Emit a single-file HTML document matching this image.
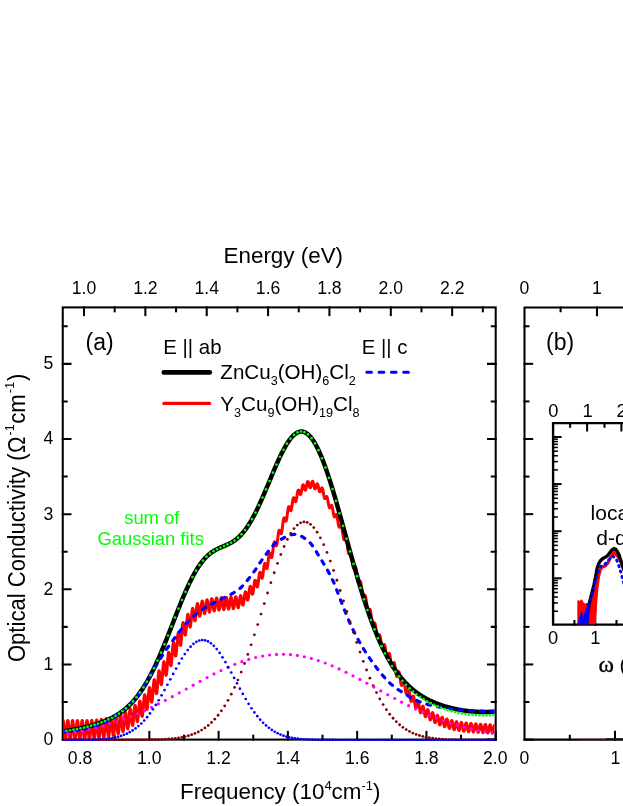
<!DOCTYPE html><html><head><meta charset="utf-8"><title>fig</title><style>html,body{margin:0;padding:0;background:#fff}body{width:623px;height:806px;overflow:hidden;font-family:"Liberation Sans",sans-serif}</style></head><body><svg width="623" height="806" viewBox="0 0 623 806" style="display:block;will-change:transform" font-family="Liberation Sans, sans-serif" fill="#000">
<rect width="623" height="806" fill="#fff"/>
<defs><clipPath id="ca"><rect x="63.95" y="307.4" width="430.55" height="433.6"/></clipPath><clipPath id="ci"><rect x="553.4" y="423.7" width="80" height="200.8"/></clipPath></defs>
<g stroke="#000" stroke-width="2.05" fill="none" stroke-linecap="square">
<rect x="62.75" y="307.4" width="432.95" height="432.20000000000005"/>
<path d="M62.75,739.60h7.7M495.7,739.60h-7.7"/>
<path d="M62.75,664.45h7.7M495.7,664.45h-7.7"/>
<path d="M62.75,589.30h7.7M495.7,589.30h-7.7"/>
<path d="M62.75,514.15h7.7M495.7,514.15h-7.7"/>
<path d="M62.75,439.00h7.7M495.7,439.00h-7.7"/>
<path d="M62.75,363.85h7.7M495.7,363.85h-7.7"/>
<path d="M62.75,702.02h3.9M495.7,702.02h-3.9"/>
<path d="M62.75,626.88h3.9M495.7,626.88h-3.9"/>
<path d="M62.75,551.73h3.9M495.7,551.73h-3.9"/>
<path d="M62.75,476.57h3.9M495.7,476.57h-3.9"/>
<path d="M62.75,401.43h3.9M495.7,401.43h-3.9"/>
<path d="M62.75,326.27h3.9M495.7,326.27h-3.9"/>
<path d="M80.07,739.6v-7.7"/>
<path d="M114.70,739.6v-3.9"/>
<path d="M149.34,739.6v-7.7"/>
<path d="M183.98,739.6v-3.9"/>
<path d="M218.61,739.6v-7.7"/>
<path d="M253.25,739.6v-3.9"/>
<path d="M287.88,739.6v-7.7"/>
<path d="M322.52,739.6v-3.9"/>
<path d="M357.16,739.6v-7.7"/>
<path d="M391.79,739.6v-3.9"/>
<path d="M426.43,739.6v-7.7"/>
<path d="M461.06,739.6v-3.9"/>
<path d="M495.70,739.6v-7.7"/>
<path d="M84.00,307.4v7.7"/>
<path d="M114.68,307.4v3.9"/>
<path d="M145.36,307.4v7.7"/>
<path d="M176.04,307.4v3.9"/>
<path d="M206.72,307.4v7.7"/>
<path d="M237.40,307.4v3.9"/>
<path d="M268.08,307.4v7.7"/>
<path d="M298.76,307.4v3.9"/>
<path d="M329.44,307.4v7.7"/>
<path d="M360.12,307.4v3.9"/>
<path d="M390.80,307.4v7.7"/>
<path d="M421.48,307.4v3.9"/>
<path d="M452.16,307.4v7.7"/>
<path d="M482.84,307.4v3.9"/>
</g>
<g clip-path="url(#ca)" fill="none" stroke-linejoin="round" stroke-linecap="butt">
<path d="M63.00,720.45 L63.17,720.69 L63.35,721.40 L63.52,722.55 L63.69,724.08 L63.87,725.90 L64.04,727.92 L64.22,730.04 L64.39,732.15 L64.56,734.15 L64.74,735.92 L64.91,737.38 L65.08,738.45 L65.26,739.08 L65.43,739.23 L65.61,738.90 L65.78,738.11 L65.95,736.89 L66.13,735.31 L66.30,733.44 L66.47,731.40 L66.65,729.27 L66.82,727.17 L66.99,725.21 L67.17,723.49 L67.34,722.10 L67.52,721.11 L67.69,720.56 L67.86,720.50 L68.04,720.91 L68.21,721.78 L68.38,723.07 L68.56,724.71 L68.73,726.61 L68.90,728.68 L69.08,730.81 L69.25,732.89 L69.43,734.81 L69.60,736.47 L69.77,737.80 L69.95,738.71 L70.12,739.17 L70.29,739.15 L70.47,738.65 L70.64,737.70 L70.82,736.34 L70.99,734.65 L71.16,732.72 L71.34,730.63 L71.51,728.51 L71.68,726.45 L71.86,724.57 L72.03,722.96 L72.20,721.71 L72.38,720.87 L72.55,720.50 L72.73,720.61 L72.90,721.19 L73.07,722.22 L73.25,723.64 L73.42,725.38 L73.59,727.35 L73.77,729.45 L73.94,731.57 L74.11,733.60 L74.29,735.44 L74.46,736.98 L74.64,738.17 L74.81,738.92 L74.98,739.21 L75.16,739.01 L75.33,738.35 L75.50,737.24 L75.68,735.76 L75.85,733.97 L76.03,731.97 L76.20,729.86 L76.37,727.75 L76.55,725.75 L76.72,723.96 L76.89,722.47 L77.07,721.37 L77.24,720.70 L77.41,720.50 L77.59,720.78 L77.76,721.53 L77.94,722.70 L78.11,724.25 L78.28,726.08 L78.46,728.10 L78.63,730.22 L78.80,732.31 L78.98,734.28 L79.15,736.02 L79.32,737.44 L79.50,738.48 L79.67,739.06 L79.85,739.18 L80.02,738.81 L80.19,737.98 L80.37,736.73 L80.54,735.13 L80.71,733.26 L80.89,731.21 L81.06,729.10 L81.24,727.02 L81.41,725.08 L81.58,723.40 L81.76,722.04 L81.93,721.09 L82.10,720.58 L82.28,720.56 L82.45,721.01 L82.62,721.92 L82.80,723.23 L82.97,724.89 L83.15,726.80 L83.32,728.86 L83.49,730.98 L83.67,733.04 L83.84,734.93 L84.01,736.57 L84.19,737.85 L84.36,738.73 L84.54,739.14 L84.71,739.08 L84.88,738.55 L85.06,737.56 L85.23,736.18 L85.40,734.48 L85.58,732.53 L85.75,730.45 L85.92,728.34 L86.10,726.30 L86.27,724.45 L86.45,722.87 L86.62,721.65 L86.79,720.86 L86.97,720.52 L87.14,720.67 L87.31,721.28 L87.49,722.34 L87.66,723.78 L87.83,725.53 L88.01,727.50 L88.18,729.59 L88.36,731.69 L88.53,733.69 L88.70,735.49 L88.88,737.00 L89.05,738.13 L89.22,738.84 L89.40,739.07 L89.57,738.83 L89.75,738.12 L89.92,736.98 L90.09,735.47 L90.27,733.66 L90.44,731.65 L90.61,729.54 L90.79,727.43 L90.96,725.44 L91.13,723.67 L91.31,722.21 L91.48,721.13 L91.66,720.49 L91.83,720.32 L92.00,720.63 L92.18,721.40 L92.35,722.59 L92.52,724.14 L92.70,725.97 L92.87,727.98 L93.04,730.07 L93.22,732.14 L93.39,734.07 L93.57,735.76 L93.74,737.13 L93.91,738.11 L94.09,738.63 L94.26,738.69 L94.43,738.27 L94.61,737.39 L94.78,736.10 L94.96,734.47 L95.13,732.57 L95.30,730.50 L95.48,728.38 L95.65,726.30 L95.82,724.37 L96.00,722.70 L96.17,721.37 L96.34,720.43 L96.52,719.95 L96.69,719.95 L96.87,720.42 L97.04,721.34 L97.21,722.65 L97.39,724.30 L97.56,726.20 L97.73,728.24 L97.91,730.33 L98.08,732.35 L98.25,734.19 L98.43,735.77 L98.60,736.99 L98.78,737.80 L98.95,738.15 L99.12,738.03 L99.30,737.44 L99.47,736.40 L99.64,734.97 L99.82,733.23 L99.99,731.25 L100.17,729.15 L100.34,727.03 L100.51,724.99 L100.69,723.14 L100.86,721.58 L101.03,720.38 L101.21,719.60 L101.38,719.28 L101.55,719.44 L101.73,720.07 L101.90,721.13 L102.08,722.57 L102.25,724.31 L102.42,726.27 L102.60,728.33 L102.77,730.39 L102.94,732.35 L103.12,734.10 L103.29,735.55 L103.46,736.62 L103.64,737.26 L103.81,737.44 L103.99,737.14 L104.16,736.38 L104.33,735.19 L104.51,733.63 L104.68,731.79 L104.85,729.76 L105.03,727.63 L105.20,725.53 L105.38,723.55 L105.55,721.79 L105.72,720.34 L105.90,719.29 L106.07,718.67 L106.24,718.52 L106.42,718.85 L106.59,719.63 L106.76,720.83 L106.94,722.38 L107.11,724.20 L107.29,726.20 L107.46,728.27 L107.63,730.30 L107.81,732.18 L107.98,733.83 L108.15,735.14 L108.33,736.06 L108.50,736.53 L108.68,736.53 L108.85,736.06 L109.02,735.13 L109.20,733.80 L109.37,732.14 L109.54,730.21 L109.72,728.14 L109.89,726.01 L110.06,723.93 L110.24,722.02 L110.41,720.37 L110.59,719.05 L110.76,718.15 L110.93,717.70 L111.11,717.72 L111.28,718.21 L111.45,719.14 L111.63,720.47 L111.80,722.12 L111.97,724.01 L112.15,726.03 L112.32,728.09 L112.50,730.06 L112.67,731.86 L112.84,733.38 L113.02,734.55 L113.19,735.30 L113.36,735.59 L113.54,735.40 L113.71,734.74 L113.89,733.65 L114.06,732.18 L114.23,730.39 L114.41,728.39 L114.58,726.26 L114.75,724.12 L114.93,722.08 L115.10,720.23 L115.27,718.67 L115.45,717.48 L115.62,716.71 L115.80,716.40 L115.97,716.57 L116.14,717.20 L116.32,718.25 L116.49,719.68 L116.66,721.40 L116.84,723.31 L117.01,725.33 L117.18,727.34 L117.36,729.24 L117.53,730.91 L117.71,732.29 L117.88,733.28 L118.05,733.84 L118.23,733.93 L118.40,733.55 L118.57,732.71 L118.75,731.45 L118.92,729.83 L119.10,727.93 L119.27,725.85 L119.44,723.69 L119.62,721.55 L119.79,719.54 L119.96,717.77 L120.14,716.31 L120.31,715.25 L120.48,714.62 L120.66,714.46 L120.83,714.77 L121.01,715.53 L121.18,716.70 L121.35,718.22 L121.53,719.99 L121.70,721.93 L121.87,723.93 L122.05,725.89 L122.22,727.69 L122.39,729.24 L122.57,730.46 L122.74,731.28 L122.92,731.65 L123.09,731.55 L123.26,730.97 L123.44,729.96 L123.61,728.54 L123.78,726.79 L123.96,724.80 L124.13,722.65 L124.31,720.47 L124.48,718.35 L124.65,716.40 L124.83,714.71 L125.00,713.37 L125.17,712.44 L125.35,711.96 L125.52,711.95 L125.69,712.40 L125.87,713.30 L126.04,714.58 L126.22,716.18 L126.39,718.00 L126.56,719.95 L126.74,721.92 L126.91,723.81 L127.08,725.51 L127.26,726.93 L127.43,727.99 L127.61,728.63 L127.78,728.81 L127.95,728.52 L128.13,727.76 L128.30,726.58 L128.47,725.01 L128.65,723.15 L128.82,721.08 L128.99,718.89 L129.17,716.70 L129.34,714.62 L129.52,712.74 L129.69,711.15 L129.86,709.94 L130.04,709.15 L130.21,708.82 L130.38,708.96 L130.56,709.56 L130.73,710.58 L130.90,711.97 L131.08,713.64 L131.25,715.50 L131.43,717.45 L131.60,719.38 L131.77,721.19 L131.95,722.78 L132.12,724.06 L132.29,724.96 L132.47,725.42 L132.64,725.41 L132.82,724.94 L132.99,724.01 L133.16,722.66 L133.34,720.97 L133.51,719.01 L133.68,716.87 L133.86,714.66 L134.03,712.49 L134.20,710.45 L134.38,708.66 L134.55,707.18 L134.73,706.10 L134.90,705.46 L135.07,705.29 L135.25,705.59 L135.42,706.33 L135.59,707.48 L135.77,708.96 L135.94,710.69 L136.11,712.58 L136.29,714.52 L136.46,716.40 L136.64,718.13 L136.81,719.60 L136.98,720.73 L137.16,721.46 L137.33,721.73 L137.50,721.54 L137.68,720.87 L137.85,719.76 L138.03,718.25 L138.20,716.42 L138.37,714.35 L138.55,712.14 L138.72,709.89 L138.89,707.71 L139.07,705.71 L139.24,703.97 L139.41,702.59 L139.59,701.61 L139.76,701.08 L139.94,701.01 L140.11,701.41 L140.28,702.24 L140.46,703.45 L140.63,704.95 L140.80,706.68 L140.98,708.52 L141.15,710.38 L141.32,712.13 L141.50,713.69 L141.67,714.97 L141.85,715.88 L142.02,716.36 L142.19,716.39 L142.37,715.94 L142.54,715.03 L142.71,713.70 L142.89,711.99 L143.06,710.00 L143.24,707.80 L143.41,705.49 L143.58,703.20 L143.76,701.01 L143.93,699.03 L144.10,697.35 L144.28,696.05 L144.45,695.17 L144.62,694.75 L144.80,694.80 L144.97,695.30 L145.15,696.22 L145.32,697.49 L145.49,699.03 L145.67,700.76 L145.84,702.57 L146.01,704.35 L146.19,706.00 L146.36,707.43 L146.54,708.53 L146.71,709.25 L146.88,709.54 L147.06,709.36 L147.23,708.71 L147.40,707.61 L147.58,706.11 L147.75,704.26 L147.92,702.16 L148.10,699.89 L148.27,697.55 L148.45,695.27 L148.62,693.12 L148.79,691.23 L148.97,689.66 L149.14,688.49 L149.31,687.76 L149.49,687.50 L149.66,687.71 L149.83,688.35 L150.01,689.39 L150.18,690.76 L150.36,692.37 L150.53,694.12 L150.70,695.91 L150.88,697.64 L151.05,699.20 L151.22,700.50 L151.40,701.45 L151.57,702.00 L151.75,702.10 L151.92,701.72 L152.09,700.89 L152.27,699.61 L152.44,697.95 L152.61,695.98 L152.79,693.78 L152.96,691.44 L153.13,689.08 L153.31,686.81 L153.48,684.71 L153.66,682.89 L153.83,681.42 L154.00,680.37 L154.18,679.77 L154.35,679.63 L154.52,679.95 L154.70,680.70 L154.87,681.82 L155.04,683.24 L155.22,684.86 L155.39,686.60 L155.57,688.33 L155.74,689.97 L155.91,691.40 L156.09,692.54 L156.26,693.32 L156.43,693.67 L156.61,693.56 L156.78,692.98 L156.96,691.95 L157.13,690.50 L157.30,688.69 L157.48,686.59 L157.65,684.30 L157.82,681.92 L158.00,679.56 L158.17,677.31 L158.34,675.28 L158.52,673.56 L158.69,672.21 L158.87,671.29 L159.04,670.84 L159.21,670.85 L159.39,671.31 L159.56,672.18 L159.73,673.39 L159.91,674.87 L160.08,676.53 L160.25,678.26 L160.43,679.95 L160.60,681.51 L160.78,682.83 L160.95,683.83 L161.12,684.44 L161.30,684.62 L161.47,684.33 L161.64,683.58 L161.82,682.39 L161.99,680.80 L162.17,678.87 L162.34,676.69 L162.51,674.36 L162.69,671.97 L162.86,669.64 L163.03,667.46 L163.21,665.53 L163.38,663.94 L163.55,662.74 L163.73,661.98 L163.90,661.69 L164.08,661.86 L164.25,662.47 L164.42,663.46 L164.60,664.77 L164.77,666.32 L164.94,668.00 L165.12,669.72 L165.29,671.36 L165.46,672.83 L165.64,674.03 L165.81,674.88 L165.99,675.33 L166.16,675.33 L166.33,674.86 L166.51,673.93 L166.68,672.57 L166.85,670.84 L167.03,668.80 L167.20,666.54 L167.38,664.16 L167.55,661.77 L167.72,659.46 L167.90,657.35 L168.07,655.52 L168.24,654.04 L168.42,652.99 L168.59,652.38 L168.76,652.24 L168.94,652.56 L169.11,653.29 L169.29,654.39 L169.46,655.78 L169.63,657.37 L169.81,659.06 L169.98,660.75 L170.15,662.33 L170.33,663.69 L170.50,664.77 L170.68,665.47 L170.85,665.75 L171.02,665.57 L171.20,664.92 L171.37,663.83 L171.54,662.32 L171.72,660.46 L171.89,658.33 L172.06,656.01 L172.24,653.61 L172.41,651.24 L172.59,648.99 L172.76,646.97 L172.93,645.26 L173.11,643.93 L173.28,643.03 L173.45,642.59 L173.63,642.61 L173.80,643.08 L173.97,643.96 L174.15,645.17 L174.32,646.64 L174.50,648.27 L174.67,649.97 L174.84,651.63 L175.02,653.14 L175.19,654.42 L175.36,655.36 L175.54,655.92 L175.71,656.03 L175.89,655.69 L176.06,654.87 L176.23,653.62 L176.41,651.97 L176.58,649.99 L176.75,647.77 L176.93,645.40 L177.10,642.99 L177.27,640.63 L177.45,638.43 L177.62,636.50 L177.80,634.91 L177.97,633.72 L178.14,632.97 L178.32,632.68 L178.49,632.85 L178.66,633.44 L178.84,634.41 L179.01,635.67 L179.18,637.15 L179.36,638.76 L179.53,640.38 L179.71,641.91 L179.88,643.26 L180.05,644.34 L180.23,645.08 L180.40,645.41 L180.57,645.30 L180.75,644.74 L180.92,643.74 L181.10,642.34 L181.27,640.58 L181.44,638.54 L181.62,636.31 L181.79,633.98 L181.96,631.65 L182.14,629.43 L182.31,627.40 L182.48,625.65 L182.66,624.26 L182.83,623.27 L183.01,622.71 L183.18,622.59 L183.35,622.91 L183.53,623.61 L183.70,624.65 L183.87,625.96 L184.05,627.44 L184.22,629.00 L184.39,630.55 L184.57,631.99 L184.74,633.22 L184.92,634.17 L185.09,634.77 L185.26,634.98 L185.44,634.76 L185.61,634.12 L185.78,633.08 L185.96,631.66 L186.13,629.94 L186.31,627.98 L186.48,625.88 L186.65,623.72 L186.83,621.59 L187.00,619.61 L187.17,617.84 L187.35,616.38 L187.52,615.27 L187.69,614.56 L187.87,614.28 L188.04,614.41 L188.22,614.95 L188.39,615.84 L188.56,617.04 L188.74,618.45 L188.91,619.99 L189.08,621.58 L189.26,623.11 L189.43,624.50 L189.61,625.67 L189.78,626.54 L189.95,627.06 L190.13,627.19 L190.30,626.92 L190.47,626.24 L190.65,625.18 L190.82,623.79 L190.99,622.13 L191.17,620.26 L191.34,618.29 L191.52,616.29 L191.69,614.36 L191.86,612.59 L192.04,611.05 L192.21,609.82 L192.38,608.94 L192.56,608.44 L192.73,608.34 L192.90,608.63 L193.08,609.29 L193.25,610.27 L193.43,611.50 L193.60,612.91 L193.77,614.42 L193.95,615.94 L194.12,617.38 L194.29,618.65 L194.47,619.69 L194.64,620.43 L194.82,620.81 L194.99,620.83 L195.16,620.46 L195.34,619.71 L195.51,618.63 L195.68,617.24 L195.86,615.63 L196.03,613.85 L196.20,612.01 L196.38,610.17 L196.55,608.43 L196.73,606.87 L196.90,605.56 L197.07,604.55 L197.25,603.90 L197.42,603.61 L197.59,603.71 L197.77,604.17 L197.94,604.96 L198.11,606.03 L198.29,607.33 L198.46,608.76 L198.64,610.26 L198.81,611.74 L198.98,613.12 L199.16,614.32 L199.33,615.27 L199.50,615.91 L199.68,616.22 L199.85,616.18 L200.03,615.77 L200.20,615.02 L200.37,613.96 L200.55,612.64 L200.72,611.13 L200.89,609.51 L201.07,607.84 L201.24,606.21 L201.41,604.71 L201.59,603.39 L201.76,602.33 L201.94,601.58 L202.11,601.16 L202.28,601.09 L202.46,601.38 L202.63,602.00 L202.80,602.92 L202.98,604.08 L203.15,605.42 L203.32,606.86 L203.50,608.33 L203.67,609.76 L203.85,611.05 L204.02,612.15 L204.19,613.00 L204.37,613.54 L204.54,613.75 L204.71,613.62 L204.89,613.16 L205.06,612.37 L205.24,611.31 L205.41,610.03 L205.58,608.59 L205.76,607.05 L205.93,605.50 L206.10,604.01 L206.28,602.66 L206.45,601.50 L206.62,600.60 L206.80,600.00 L206.97,599.73 L207.15,599.80 L207.32,600.20 L207.49,600.91 L207.67,601.89 L207.84,603.08 L208.01,604.43 L208.19,605.85 L208.36,607.28 L208.54,608.64 L208.71,609.85 L208.88,610.85 L209.06,611.60 L209.23,612.03 L209.40,612.15 L209.58,611.93 L209.75,611.38 L209.92,610.54 L210.10,609.44 L210.27,608.13 L210.45,606.70 L210.62,605.19 L210.79,603.70 L210.97,602.29 L211.14,601.04 L211.31,600.01 L211.49,599.25 L211.66,598.79 L211.83,598.66 L212.01,598.86 L212.18,599.38 L212.36,600.19 L212.53,601.24 L212.70,602.48 L212.88,603.85 L213.05,605.27 L213.22,606.66 L213.40,607.96 L213.57,609.09 L213.75,610.00 L213.92,610.64 L214.09,610.97 L214.27,610.97 L214.44,610.65 L214.61,610.01 L214.79,609.10 L214.96,607.96 L215.13,606.64 L215.31,605.21 L215.48,603.74 L215.66,602.31 L215.83,600.99 L216.00,599.85 L216.18,598.94 L216.35,598.30 L216.52,597.98 L216.70,597.98 L216.87,598.30 L217.04,598.92 L217.22,599.82 L217.39,600.93 L217.57,602.21 L217.74,603.59 L217.91,604.99 L218.09,606.33 L218.26,607.56 L218.43,608.61 L218.61,609.42 L218.78,609.94 L218.96,610.16 L219.13,610.06 L219.30,609.64 L219.48,608.93 L219.65,607.96 L219.82,606.78 L220.00,605.45 L220.17,604.04 L220.34,602.62 L220.52,601.26 L220.69,600.04 L220.87,599.01 L221.04,598.22 L221.21,597.72 L221.39,597.52 L221.56,597.65 L221.73,598.08 L221.91,598.80 L222.08,599.77 L222.25,600.94 L222.43,602.24 L222.60,603.61 L222.78,604.98 L222.95,606.27 L223.12,607.43 L223.30,608.38 L223.47,609.08 L223.64,609.50 L223.82,609.60 L223.99,609.40 L224.17,608.89 L224.34,608.10 L224.51,607.08 L224.69,605.87 L224.86,604.54 L225.03,603.15 L225.21,601.78 L225.38,600.50 L225.55,599.37 L225.73,598.44 L225.90,597.77 L226.08,597.39 L226.25,597.32 L226.42,597.55 L226.60,598.09 L226.77,598.89 L226.94,599.91 L227.12,601.11 L227.29,602.42 L227.46,603.77 L227.64,605.09 L227.81,606.32 L227.99,607.38 L228.16,608.23 L228.33,608.82 L228.51,609.12 L228.68,609.11 L228.85,608.80 L229.03,608.20 L229.20,607.34 L229.38,606.27 L229.55,605.03 L229.72,603.70 L229.90,602.34 L230.07,601.03 L230.24,599.81 L230.42,598.77 L230.59,597.95 L230.76,597.39 L230.94,597.12 L231.11,597.16 L231.29,597.49 L231.46,598.11 L231.63,598.97 L231.81,600.04 L231.98,601.25 L232.15,602.55 L232.33,603.86 L232.50,605.12 L232.68,606.26 L232.85,607.22 L233.02,607.96 L233.20,608.43 L233.37,608.61 L233.54,608.49 L233.72,608.07 L233.89,607.38 L234.06,606.45 L234.24,605.33 L234.41,604.07 L234.59,602.74 L234.76,601.41 L234.93,600.14 L235.11,599.00 L235.28,598.05 L235.45,597.32 L235.63,596.87 L235.80,596.70 L235.97,596.83 L236.15,597.25 L236.32,597.93 L236.50,598.84 L236.67,599.93 L236.84,601.14 L237.02,602.41 L237.19,603.66 L237.36,604.85 L237.54,605.89 L237.71,606.75 L237.89,607.36 L238.06,607.70 L238.23,607.76 L238.41,607.52 L238.58,607.00 L238.75,606.21 L238.93,605.21 L239.10,604.03 L239.27,602.73 L239.45,601.39 L239.62,600.06 L239.80,598.81 L239.97,597.70 L240.14,596.79 L240.32,596.11 L240.49,595.71 L240.66,595.58 L240.84,595.74 L241.01,596.17 L241.18,596.84 L241.36,597.71 L241.53,598.74 L241.71,599.86 L241.88,601.01 L242.05,602.12 L242.23,603.14 L242.40,604.00 L242.57,604.64 L242.75,605.04 L242.92,605.17 L243.10,605.00 L243.27,604.55 L243.44,603.83 L243.62,602.87 L243.79,601.70 L243.96,600.39 L244.14,599.00 L244.31,597.57 L244.48,596.19 L244.66,594.92 L244.83,593.80 L245.01,592.89 L245.18,592.23 L245.35,591.83 L245.53,591.72 L245.70,591.88 L245.87,592.31 L246.05,592.96 L246.22,593.79 L246.39,594.75 L246.57,595.79 L246.74,596.83 L246.92,597.81 L247.09,598.68 L247.26,599.38 L247.44,599.87 L247.61,600.10 L247.78,600.06 L247.96,599.73 L248.13,599.14 L248.31,598.29 L248.48,597.22 L248.65,595.98 L248.83,594.61 L249.00,593.19 L249.17,591.76 L249.35,590.41 L249.52,589.17 L249.69,588.11 L249.87,587.27 L250.04,586.69 L250.22,586.37 L250.39,586.33 L250.56,586.56 L250.74,587.03 L250.91,587.72 L251.08,588.56 L251.26,589.52 L251.43,590.52 L251.61,591.51 L251.78,592.42 L251.95,593.20 L252.13,593.79 L252.30,594.15 L252.47,594.26 L252.65,594.09 L252.82,593.65 L252.99,592.95 L253.17,592.01 L253.34,590.86 L253.52,589.56 L253.69,588.17 L253.86,586.73 L254.04,585.31 L254.21,583.98 L254.38,582.78 L254.56,581.77 L254.73,580.99 L254.90,580.45 L255.08,580.19 L255.25,580.18 L255.43,580.43 L255.60,580.90 L255.77,581.56 L255.95,582.35 L256.12,583.23 L256.29,584.13 L256.47,585.00 L256.64,585.76 L256.82,586.38 L256.99,586.80 L257.16,586.99 L257.34,586.93 L257.51,586.60 L257.68,586.00 L257.86,585.16 L258.03,584.10 L258.20,582.86 L258.38,581.49 L258.55,580.04 L258.73,578.58 L258.90,577.17 L259.07,575.85 L259.25,574.69 L259.42,573.72 L259.59,572.99 L259.77,572.50 L259.94,572.28 L260.11,572.31 L260.29,572.57 L260.46,573.05 L260.64,573.68 L260.81,574.44 L260.98,575.25 L261.16,576.07 L261.33,576.83 L261.50,577.47 L261.68,577.96 L261.85,578.25 L262.03,578.30 L262.20,578.10 L262.37,577.64 L262.55,576.93 L262.72,575.99 L262.89,574.85 L263.07,573.56 L263.24,572.16 L263.41,570.71 L263.59,569.26 L263.76,567.88 L263.94,566.62 L264.11,565.52 L264.28,564.63 L264.46,563.97 L264.63,563.55 L264.80,563.39 L264.98,563.46 L265.15,563.76 L265.32,564.23 L265.50,564.85 L265.67,565.56 L265.85,566.31 L266.02,567.04 L266.19,567.69 L266.37,568.21 L266.54,568.56 L266.71,568.70 L266.89,568.60 L267.06,568.26 L267.24,567.66 L267.41,566.83 L267.58,565.78 L267.76,564.55 L267.93,563.19 L268.10,561.74 L268.28,560.26 L268.45,558.81 L268.62,557.43 L268.80,556.19 L268.97,555.12 L269.15,554.26 L269.32,553.63 L269.49,553.24 L269.67,553.10 L269.84,553.18 L270.01,553.46 L270.19,553.91 L270.36,554.48 L270.54,555.13 L270.71,555.79 L270.88,556.41 L271.06,556.94 L271.23,557.33 L271.40,557.54 L271.58,557.54 L271.75,557.31 L271.92,556.84 L272.10,556.12 L272.27,555.19 L272.45,554.06 L272.62,552.77 L272.79,551.37 L272.97,549.91 L273.14,548.44 L273.31,547.02 L273.49,545.69 L273.66,544.50 L273.83,543.50 L274.01,542.72 L274.18,542.16 L274.36,541.84 L274.53,541.75 L274.70,541.87 L274.88,542.18 L275.05,542.64 L275.22,543.20 L275.40,543.81 L275.57,544.43 L275.75,544.98 L275.92,545.43 L276.09,545.74 L276.27,545.86 L276.44,545.77 L276.61,545.45 L276.79,544.89 L276.96,544.12 L277.13,543.13 L277.31,541.97 L277.48,540.67 L277.66,539.27 L277.83,537.83 L278.00,536.40 L278.18,535.03 L278.35,533.77 L278.52,532.66 L278.70,531.73 L278.87,531.02 L279.04,530.53 L279.22,530.26 L279.39,530.22 L279.57,530.37 L279.74,530.68 L279.91,531.12 L280.09,531.64 L280.26,532.19 L280.43,532.72 L280.61,533.17 L280.78,533.51 L280.96,533.69 L281.13,533.68 L281.30,533.45 L281.48,533.00 L281.65,532.33 L281.82,531.45 L282.00,530.37 L282.17,529.14 L282.34,527.79 L282.52,526.38 L282.69,524.94 L282.87,523.53 L283.04,522.20 L283.21,520.99 L283.39,519.95 L283.56,519.09 L283.73,518.45 L283.91,518.04 L284.08,517.84 L284.25,517.85 L284.43,518.04 L284.60,518.38 L284.78,518.83 L284.95,519.34 L285.12,519.87 L285.30,520.36 L285.47,520.77 L285.64,521.05 L285.82,521.17 L285.99,521.10 L286.17,520.82 L286.34,520.33 L286.51,519.63 L286.69,518.74 L286.86,517.68 L287.03,516.48 L287.21,515.19 L287.38,513.85 L287.55,512.51 L287.73,511.22 L287.90,510.03 L288.08,508.97 L288.25,508.09 L288.42,507.40 L288.60,506.92 L288.77,506.67 L288.94,506.62 L289.12,506.77 L289.29,507.09 L289.46,507.54 L289.64,508.08 L289.81,508.67 L289.99,509.26 L290.16,509.80 L290.33,510.24 L290.51,510.55 L290.68,510.68 L290.85,510.62 L291.03,510.36 L291.20,509.89 L291.38,509.22 L291.55,508.36 L291.72,507.35 L291.90,506.23 L292.07,505.02 L292.24,503.78 L292.42,502.56 L292.59,501.40 L292.76,500.35 L292.94,499.43 L293.11,498.69 L293.29,498.14 L293.46,497.80 L293.63,497.66 L293.81,497.71 L293.98,497.95 L294.15,498.33 L294.33,498.82 L294.50,499.38 L294.68,499.97 L294.85,500.53 L295.02,501.04 L295.20,501.43 L295.37,501.69 L295.54,501.77 L295.72,501.67 L295.89,501.36 L296.06,500.87 L296.24,500.18 L296.41,499.33 L296.59,498.35 L296.76,497.27 L296.93,496.13 L297.11,494.98 L297.28,493.86 L297.45,492.82 L297.63,491.90 L297.80,491.13 L297.97,490.53 L298.15,490.12 L298.32,489.92 L298.50,489.91 L298.67,490.09 L298.84,490.42 L299.02,490.90 L299.19,491.46 L299.36,492.08 L299.54,492.72 L299.71,493.31 L299.89,493.84 L300.06,494.25 L300.23,494.51 L300.41,494.61 L300.58,494.52 L300.75,494.25 L300.93,493.79 L301.10,493.16 L301.27,492.39 L301.45,491.50 L301.62,490.53 L301.80,489.53 L301.97,488.53 L302.14,487.59 L302.32,486.73 L302.49,486.00 L302.66,485.42 L302.84,485.02 L303.01,484.80 L303.18,484.77 L303.36,484.92 L303.53,485.24 L303.71,485.70 L303.88,486.28 L304.05,486.92 L304.23,487.60 L304.40,488.28 L304.57,488.90 L304.75,489.44 L304.92,489.85 L305.10,490.11 L305.27,490.20 L305.44,490.11 L305.62,489.84 L305.79,489.39 L305.96,488.79 L306.14,488.05 L306.31,487.22 L306.48,486.32 L306.66,485.40 L306.83,484.50 L307.01,483.66 L307.18,482.92 L307.35,482.31 L307.53,481.86 L307.70,481.58 L307.87,481.49 L308.05,481.58 L308.22,481.84 L308.39,482.26 L308.57,482.82 L308.74,483.47 L308.92,484.18 L309.09,484.92 L309.26,485.64 L309.44,486.30 L309.61,486.87 L309.78,487.32 L309.96,487.62 L310.13,487.75 L310.31,487.72 L310.48,487.52 L310.65,487.16 L310.83,486.66 L311.00,486.05 L311.17,485.35 L311.35,484.61 L311.52,483.87 L311.69,483.15 L311.87,482.51 L312.04,481.98 L312.22,481.58 L312.39,481.33 L312.56,481.26 L312.74,481.36 L312.91,481.64 L313.08,482.07 L313.26,482.65 L313.43,483.34 L313.61,484.11 L313.78,484.92 L313.95,485.74 L314.13,486.53 L314.30,487.24 L314.47,487.86 L314.65,488.34 L314.82,488.67 L314.99,488.84 L315.17,488.85 L315.34,488.69 L315.52,488.38 L315.69,487.95 L315.86,487.42 L316.04,486.82 L316.21,486.19 L316.38,485.56 L316.56,484.98 L316.73,484.48 L316.90,484.09 L317.08,483.84 L317.25,483.74 L317.43,483.80 L317.60,484.03 L317.77,484.42 L317.95,484.95 L318.12,485.61 L318.29,486.36 L318.47,487.18 L318.64,488.02 L318.82,488.86 L318.99,489.64 L319.16,490.35 L319.34,490.94 L319.51,491.41 L319.68,491.72 L319.86,491.88 L320.03,491.87 L320.20,491.72 L320.38,491.43 L320.55,491.02 L320.73,490.53 L320.90,490.00 L321.07,489.46 L321.25,488.96 L321.42,488.52 L321.59,488.17 L321.77,487.95 L321.94,487.87 L322.11,487.96 L322.29,488.21 L322.46,488.62 L322.64,489.19 L322.81,489.90 L322.98,490.72 L323.16,491.63 L323.33,492.60 L323.50,493.58 L323.68,494.55 L323.85,495.47 L324.03,496.31 L324.20,497.04 L324.37,497.65 L324.55,498.11 L324.72,498.42 L324.89,498.58 L325.07,498.59 L325.24,498.48 L325.41,498.26 L325.59,497.97 L325.76,497.64 L325.94,497.29 L326.11,496.98 L326.28,496.72 L326.46,496.55 L326.63,496.51 L326.80,496.60 L326.98,496.84 L327.15,497.24 L327.32,497.79 L327.50,498.48 L327.67,499.30 L327.85,500.21 L328.02,501.20 L328.19,502.22 L328.37,503.24 L328.54,504.22 L328.71,505.14 L328.89,505.95 L329.06,506.64 L329.24,507.19 L329.41,507.58 L329.58,507.81 L329.76,507.88 L329.93,507.81 L330.10,507.61 L330.28,507.31 L330.45,506.94 L330.62,506.54 L330.80,506.15 L330.97,505.79 L331.15,505.51 L331.32,505.34 L331.49,505.30 L331.67,505.41 L331.84,505.68 L332.01,506.12 L332.19,506.71 L332.36,507.46 L332.54,508.32 L332.71,509.28 L332.88,510.31 L333.06,511.37 L333.23,512.41 L333.40,513.41 L333.58,514.33 L333.75,515.14 L333.92,515.81 L334.10,516.33 L334.27,516.68 L334.45,516.87 L334.62,516.90 L334.79,516.80 L334.97,516.57 L335.14,516.25 L335.31,515.87 L335.49,515.48 L335.66,515.11 L335.83,514.79 L336.01,514.57 L336.18,514.47 L336.36,514.51 L336.53,514.71 L336.70,515.09 L336.88,515.64 L337.05,516.34 L337.22,517.20 L337.40,518.17 L337.57,519.23 L337.75,520.35 L337.92,521.49 L338.09,522.60 L338.27,523.65 L338.44,524.61 L338.61,525.45 L338.79,526.14 L338.96,526.67 L339.13,527.03 L339.31,527.22 L339.48,527.26 L339.66,527.16 L339.83,526.95 L340.00,526.66 L340.18,526.33 L340.35,526.00 L340.52,525.70 L340.70,525.48 L340.87,525.36 L341.04,525.38 L341.22,525.56 L341.39,525.91 L341.57,526.43 L341.74,527.14 L341.91,528.00 L342.09,529.00 L342.26,530.12 L342.43,531.32 L342.61,532.56 L342.78,533.80 L342.96,535.01 L343.13,536.14 L343.30,537.16 L343.48,538.04 L343.65,538.76 L343.82,539.32 L344.00,539.69 L344.17,539.90 L344.34,539.95 L344.52,539.87 L344.69,539.68 L344.87,539.43 L345.04,539.14 L345.21,538.86 L345.39,538.63 L345.56,538.49 L345.73,538.46 L345.91,538.59 L346.08,538.88 L346.25,539.35 L346.43,540.01 L346.60,540.84 L346.78,541.82 L346.95,542.94 L347.12,544.16 L347.30,545.45 L347.47,546.77 L347.64,548.07 L347.82,549.32 L347.99,550.47 L348.17,551.50 L348.34,552.38 L348.51,553.08 L348.69,553.61 L348.86,553.95 L349.03,554.12 L349.21,554.14 L349.38,554.03 L349.55,553.82 L349.73,553.54 L349.90,553.26 L350.08,552.99 L350.25,552.79 L350.42,552.68 L350.60,552.71 L350.77,552.90 L350.94,553.27 L351.12,553.82 L351.29,554.55 L351.46,555.46 L351.64,556.52 L351.81,557.70 L351.99,558.98 L352.16,560.31 L352.33,561.65 L352.51,562.95 L352.68,564.19 L352.85,565.31 L353.03,566.30 L353.20,567.11 L353.38,567.75 L353.55,568.19 L353.72,568.45 L353.90,568.54 L354.07,568.47 L354.24,568.28 L354.42,568.00 L354.59,567.68 L354.76,567.36 L354.94,567.07 L355.11,566.87 L355.29,566.78 L355.46,566.85 L355.63,567.08 L355.81,567.50 L355.98,568.12 L356.15,568.92 L356.33,569.89 L356.50,571.01 L356.68,572.25 L356.85,573.58 L357.02,574.94 L357.20,576.30 L357.37,577.61 L357.54,578.84 L357.72,579.94 L357.89,580.89 L358.06,581.66 L358.24,582.24 L358.41,582.62 L358.59,582.83 L358.76,582.86 L358.93,582.74 L359.11,582.51 L359.28,582.21 L359.45,581.88 L359.63,581.56 L359.80,581.29 L359.97,581.12 L360.15,581.08 L360.32,581.21 L360.50,581.51 L360.67,582.01 L360.84,582.71 L361.02,583.59 L361.19,584.64 L361.36,585.83 L361.54,587.13 L361.71,588.50 L361.89,589.89 L362.06,591.27 L362.23,592.57 L362.41,593.77 L362.58,594.83 L362.75,595.72 L362.93,596.43 L363.10,596.93 L363.27,597.24 L363.45,597.36 L363.62,597.31 L363.80,597.12 L363.97,596.82 L364.14,596.47 L364.32,596.10 L364.49,595.75 L364.66,595.48 L364.84,595.32 L365.01,595.31 L365.18,595.46 L365.36,595.82 L365.53,596.37 L365.71,597.12 L365.88,598.05 L366.05,599.15 L366.23,600.39 L366.40,601.72 L366.57,603.11 L366.75,604.50 L366.92,605.87 L367.10,607.15 L367.27,608.31 L367.44,609.31 L367.62,610.14 L367.79,610.76 L367.96,611.19 L368.14,611.41 L368.31,611.45 L368.48,611.33 L368.66,611.08 L368.83,610.74 L369.01,610.35 L369.18,609.96 L369.35,609.62 L369.53,609.36 L369.70,609.24 L369.87,609.28 L370.05,609.51 L370.22,609.94 L370.39,610.57 L370.57,611.41 L370.74,612.43 L370.92,613.60 L371.09,614.90 L371.26,616.29 L371.44,617.71 L371.61,619.12 L371.78,620.47 L371.96,621.73 L372.13,622.84 L372.31,623.79 L372.48,624.54 L372.65,625.08 L372.83,625.41 L373.00,625.54 L373.17,625.48 L373.35,625.27 L373.52,624.93 L373.69,624.52 L373.87,624.08 L374.04,623.65 L374.22,623.28 L374.39,623.01 L374.56,622.90 L374.74,622.95 L374.91,623.21 L375.08,623.67 L375.26,624.34 L375.43,625.20 L375.61,626.25 L375.78,627.44 L375.95,628.75 L376.13,630.12 L376.30,631.51 L376.47,632.87 L376.65,634.15 L376.82,635.32 L376.99,636.33 L377.17,637.15 L377.34,637.76 L377.52,638.15 L377.69,638.33 L377.86,638.30 L378.04,638.09 L378.21,637.73 L378.38,637.26 L378.56,636.72 L378.73,636.17 L378.90,635.65 L379.08,635.21 L379.25,634.89 L379.43,634.73 L379.60,634.76 L379.77,635.00 L379.95,635.45 L380.12,636.11 L380.29,636.97 L380.47,638.00 L380.64,639.17 L380.82,640.44 L380.99,641.76 L381.16,643.09 L381.34,644.37 L381.51,645.55 L381.68,646.60 L381.86,647.47 L382.03,648.15 L382.20,648.61 L382.38,648.84 L382.55,648.86 L382.73,648.68 L382.90,648.33 L383.07,647.84 L383.25,647.25 L383.42,646.62 L383.59,645.99 L383.77,645.41 L383.94,644.93 L384.11,644.59 L384.29,644.44 L384.46,644.48 L384.64,644.74 L384.81,645.22 L384.98,645.92 L385.16,646.81 L385.33,647.87 L385.50,649.06 L385.68,650.34 L385.85,651.65 L386.03,652.95 L386.20,654.18 L386.37,655.31 L386.55,656.28 L386.72,657.06 L386.89,657.63 L387.07,657.98 L387.24,658.11 L387.41,658.02 L387.59,657.73 L387.76,657.29 L387.94,656.71 L388.11,656.06 L388.28,655.38 L388.46,654.72 L388.63,654.14 L388.80,653.68 L388.98,653.38 L389.15,653.27 L389.32,653.37 L389.50,653.71 L389.67,654.27 L389.85,655.05 L390.02,656.02 L390.19,657.15 L390.37,658.40 L390.54,659.72 L390.71,661.06 L390.89,662.36 L391.06,663.59 L391.24,664.69 L391.41,665.62 L391.58,666.35 L391.76,666.86 L391.93,667.14 L392.10,667.19 L392.28,667.03 L392.45,666.68 L392.62,666.18 L392.80,665.57 L392.97,664.89 L393.15,664.21 L393.32,663.57 L393.49,663.02 L393.67,662.62 L393.84,662.39 L394.01,662.37 L394.19,662.58 L394.36,663.02 L394.54,663.68 L394.71,664.56 L394.88,665.61 L395.06,666.82 L395.23,668.12 L395.40,669.47 L395.58,670.82 L395.75,672.12 L395.92,673.32 L396.10,674.36 L396.27,675.23 L396.45,675.88 L396.62,676.31 L396.79,676.50 L396.97,676.47 L397.14,676.24 L397.31,675.82 L397.49,675.27 L397.66,674.63 L397.83,673.95 L398.01,673.27 L398.18,672.66 L398.36,672.16 L398.53,671.81 L398.70,671.65 L398.88,671.70 L399.05,671.98 L399.22,672.49 L399.40,673.22 L399.57,674.15 L399.75,675.25 L399.92,676.48 L400.09,677.79 L400.27,679.12 L400.44,680.44 L400.61,681.69 L400.79,682.81 L400.96,683.78 L401.13,684.54 L401.31,685.09 L401.48,685.41 L401.66,685.50 L401.83,685.37 L402.00,685.05 L402.18,684.56 L402.35,683.95 L402.52,683.26 L402.70,682.55 L402.87,681.87 L403.04,681.27 L403.22,680.79 L403.39,680.47 L403.57,680.36 L403.74,680.46 L403.91,680.79 L404.09,681.34 L404.26,682.11 L404.43,683.07 L404.61,684.18 L404.78,685.40 L404.96,686.69 L405.13,688.00 L405.30,689.26 L405.48,690.44 L405.65,691.48 L405.82,692.35 L406.00,693.01 L406.17,693.46 L406.34,693.67 L406.52,693.66 L406.69,693.44 L406.87,693.04 L407.04,692.48 L407.21,691.83 L407.39,691.12 L407.56,690.40 L407.73,689.73 L407.91,689.16 L408.08,688.73 L408.25,688.48 L408.43,688.43 L408.60,688.60 L408.78,689.01 L408.95,689.63 L409.12,690.47 L409.30,691.47 L409.47,692.62 L409.64,693.86 L409.82,695.15 L409.99,696.42 L410.17,697.65 L410.34,698.76 L410.51,699.72 L410.69,700.50 L410.86,701.07 L411.03,701.41 L411.21,701.52 L411.38,701.41 L411.55,701.09 L411.73,700.61 L411.90,699.99 L412.08,699.28 L412.25,698.53 L412.42,697.79 L412.60,697.12 L412.77,696.56 L412.94,696.16 L413.12,695.94 L413.29,695.93 L413.46,696.15 L413.64,696.59 L413.81,697.24 L413.99,698.09 L414.16,699.10 L414.33,700.24 L414.51,701.44 L414.68,702.68 L414.85,703.88 L415.03,705.01 L415.20,706.01 L415.38,706.85 L415.55,707.49 L415.72,707.92 L415.90,708.11 L416.07,708.08 L416.24,707.82 L416.42,707.38 L416.59,706.77 L416.76,706.04 L416.94,705.25 L417.11,704.43 L417.29,703.64 L417.46,702.93 L417.63,702.35 L417.81,701.94 L417.98,701.73 L418.15,701.73 L418.33,701.95 L418.50,702.40 L418.68,703.06 L418.85,703.90 L419.02,704.89 L419.20,705.99 L419.37,707.15 L419.54,708.31 L419.72,709.43 L419.89,710.45 L420.06,711.34 L420.24,712.05 L420.41,712.56 L420.59,712.85 L420.76,712.91 L420.93,712.75 L421.11,712.38 L421.28,711.83 L421.45,711.14 L421.63,710.34 L421.80,709.50 L421.97,708.65 L422.15,707.86 L422.32,707.16 L422.50,706.61 L422.67,706.23 L422.84,706.06 L423.02,706.11 L423.19,706.38 L423.36,706.88 L423.54,707.57 L423.71,708.44 L423.89,709.44 L424.06,710.53 L424.23,711.65 L424.41,712.77 L424.58,713.83 L424.75,714.78 L424.93,715.57 L425.10,716.18 L425.27,716.58 L425.45,716.76 L425.62,716.71 L425.80,716.44 L425.97,715.98 L426.14,715.35 L426.32,714.59 L426.49,713.75 L426.66,712.87 L426.84,712.02 L427.01,711.23 L427.18,710.56 L427.36,710.04 L427.53,709.71 L427.71,709.60 L427.88,709.70 L428.05,710.03 L428.23,710.58 L428.40,711.31 L428.57,712.20 L428.75,713.21 L428.92,714.29 L429.10,715.40 L429.27,716.47 L429.44,717.47 L429.62,718.34 L429.79,719.05 L429.96,719.56 L430.14,719.86 L430.31,719.94 L430.48,719.79 L430.66,719.43 L430.83,718.88 L431.01,718.18 L431.18,717.37 L431.35,716.50 L431.53,715.61 L431.70,714.76 L431.87,713.99 L432.05,713.36 L432.22,712.89 L432.39,712.62 L432.57,712.57 L432.74,712.74 L432.92,713.13 L433.09,713.73 L433.26,714.50 L433.44,715.42 L433.61,716.45 L433.78,717.52 L433.96,718.60 L434.13,719.64 L434.31,720.57 L434.48,721.37 L434.65,722.00 L434.83,722.42 L435.00,722.62 L435.17,722.60 L435.35,722.36 L435.52,721.92 L435.69,721.30 L435.87,720.54 L436.04,719.69 L436.22,718.80 L436.39,717.90 L436.56,717.07 L436.74,716.33 L436.91,715.74 L437.08,715.33 L437.26,715.12 L437.43,715.14 L437.61,715.37 L437.78,715.82 L437.95,716.47 L438.13,717.28 L438.30,718.23 L438.47,719.26 L438.65,720.32 L438.82,721.37 L438.99,722.35 L439.17,723.23 L439.34,723.95 L439.52,724.49 L439.69,724.82 L439.86,724.92 L440.04,724.80 L440.21,724.47 L440.38,723.95 L440.56,723.27 L440.73,722.46 L440.90,721.58 L441.08,720.66 L441.25,719.77 L441.43,718.96 L441.60,718.26 L441.77,717.71 L441.95,717.36 L442.12,717.22 L442.29,717.29 L442.47,717.59 L442.64,718.10 L442.82,718.79 L442.99,719.64 L443.16,720.60 L443.34,721.63 L443.51,722.67 L443.68,723.69 L443.86,724.62 L444.03,725.43 L444.20,726.07 L444.38,726.52 L444.55,726.76 L444.73,726.77 L444.90,726.57 L445.07,726.15 L445.25,725.56 L445.42,724.82 L445.59,723.97 L445.77,723.07 L445.94,722.15 L446.11,721.28 L446.29,720.49 L446.46,719.84 L446.64,719.35 L446.81,719.07 L446.98,718.99 L447.16,719.14 L447.33,719.51 L447.50,720.08 L447.68,720.82 L447.85,721.71 L448.03,722.68 L448.20,723.71 L448.37,724.74 L448.55,725.72 L448.72,726.60 L448.89,727.34 L449.07,727.91 L449.24,728.27 L449.41,728.42 L449.59,728.34 L449.76,728.05 L449.94,727.56 L450.11,726.91 L450.28,726.11 L450.46,725.23 L450.63,724.31 L450.80,723.40 L450.98,722.54 L451.15,721.79 L451.32,721.19 L451.50,720.76 L451.67,720.54 L451.85,720.53 L452.02,720.75 L452.19,721.18 L452.37,721.80 L452.54,722.58 L452.71,723.48 L452.89,724.47 L453.06,725.49 L453.24,726.49 L453.41,727.42 L453.58,728.23 L453.76,728.90 L453.93,729.37 L454.10,729.64 L454.28,729.69 L454.45,729.52 L454.62,729.14 L454.80,728.58 L454.97,727.85 L455.15,727.01 L455.32,726.09 L455.49,725.16 L455.67,724.24 L455.84,723.41 L456.01,722.69 L456.19,722.13 L456.36,721.76 L456.54,721.60 L456.71,721.66 L456.88,721.94 L457.06,722.42 L457.23,723.09 L457.40,723.90 L457.58,724.82 L457.75,725.81 L457.92,726.80 L458.10,727.77 L458.27,728.64 L458.45,729.39 L458.62,729.98 L458.79,730.37 L458.97,730.55 L459.14,730.51 L459.31,730.25 L459.49,729.80 L459.66,729.16 L459.83,728.38 L460.01,727.51 L460.18,726.57 L460.36,725.63 L460.53,724.74 L460.70,723.94 L460.88,723.27 L461.05,722.77 L461.22,722.47 L461.40,722.39 L461.57,722.52 L461.75,722.86 L461.92,723.41 L462.09,724.12 L462.27,724.97 L462.44,725.91 L462.61,726.89 L462.79,727.87 L462.96,728.80 L463.13,729.62 L463.31,730.31 L463.48,730.82 L463.66,731.13 L463.83,731.22 L464.00,731.10 L464.18,730.76 L464.35,730.23 L464.52,729.53 L464.70,728.71 L464.87,727.80 L465.04,726.86 L465.22,725.93 L465.39,725.06 L465.57,724.30 L465.74,723.68 L465.91,723.25 L466.09,723.02 L466.26,723.00 L466.43,723.21 L466.61,723.62 L466.78,724.21 L466.96,724.97 L467.13,725.85 L467.30,726.80 L467.48,727.77 L467.65,728.73 L467.82,729.62 L468.00,730.39 L468.17,731.00 L468.34,731.43 L468.52,731.66 L468.69,731.66 L468.87,731.45 L469.04,731.04 L469.21,730.44 L469.39,729.69 L469.56,728.83 L469.73,727.90 L469.91,726.96 L470.08,726.04 L470.25,725.21 L470.43,724.49 L470.60,723.94 L470.78,723.57 L470.95,723.41 L471.12,723.47 L471.30,723.75 L471.47,724.23 L471.64,724.88 L471.82,725.68 L471.99,726.58 L472.17,727.54 L472.34,728.51 L472.51,729.44 L472.69,730.28 L472.86,731.00 L473.03,731.55 L473.21,731.90 L473.38,732.05 L473.55,731.97 L473.73,731.69 L473.90,731.21 L474.08,730.55 L474.25,729.76 L474.42,728.87 L474.60,727.94 L474.77,727.00 L474.94,726.11 L475.12,725.32 L475.29,724.66 L475.46,724.17 L475.64,723.88 L475.81,723.80 L475.99,723.94 L476.16,724.28 L476.33,724.82 L476.51,725.53 L476.68,726.37 L476.85,727.29 L477.03,728.25 L477.20,729.21 L477.38,730.11 L477.55,730.91 L477.72,731.56 L477.90,732.04 L478.07,732.32 L478.24,732.38 L478.42,732.23 L478.59,731.87 L478.76,731.33 L478.94,730.62 L479.11,729.79 L479.29,728.88 L479.46,727.94 L479.63,727.02 L479.81,726.16 L479.98,725.41 L480.15,724.81 L480.33,724.39 L480.50,724.18 L480.68,724.18 L480.85,724.39 L481.02,724.80 L481.20,725.40 L481.37,726.16 L481.54,727.02 L481.72,727.96 L481.89,728.92 L482.06,729.86 L482.24,730.72 L482.41,731.47 L482.59,732.06 L482.76,732.46 L482.93,732.66 L483.11,732.64 L483.28,732.42 L483.45,731.99 L483.63,731.38 L483.80,730.63 L483.97,729.76 L484.15,728.84 L484.32,727.90 L484.50,727.00 L484.67,726.18 L484.84,725.48 L485.02,724.94 L485.19,724.59 L485.36,724.45 L485.54,724.52 L485.71,724.81 L485.89,725.29 L486.06,725.94 L486.23,726.73 L486.41,727.63 L486.58,728.57 L486.75,729.52 L486.93,730.43 L487.10,731.25 L487.27,731.94 L487.45,732.46 L487.62,732.79 L487.80,732.91 L487.97,732.81 L488.14,732.51 L488.32,732.01 L488.49,731.34 L488.66,730.55 L488.84,729.66 L489.01,728.73 L489.18,727.79 L489.36,726.92 L489.53,726.13 L489.71,725.49 L489.88,725.02 L490.05,724.74 L490.23,724.67 L490.40,724.82 L490.57,725.17 L490.75,725.71 L490.92,726.41 L491.10,727.24 L491.27,728.15 L491.44,729.10 L491.62,730.03 L491.79,730.91 L491.96,731.67 L492.14,732.30 L492.31,732.75 L492.48,733.00 L492.66,733.04 L492.83,732.86 L493.01,732.48 L493.18,731.92 L493.35,731.20 L493.53,730.37 L493.70,729.46 L493.87,728.52 L494.05,727.60 L494.22,726.75 L494.39,726.02 L494.57,725.43 L494.74,725.02 L494.92,724.82 L495.09,724.82 L495.26,725.04 L495.44,725.46 L495.61,726.05 L495.78,726.80 L495.96,727.65 L496.13,728.57 L496.31,729.51 L496.48,730.42 L496.65,731.26 L496.83,731.97 L497.00,732.53" stroke="#ff0000" stroke-width="3.0"/>
<path d="M63.00,731.33 L63.72,731.23 L64.45,731.13 L65.17,731.03 L65.90,730.92 L66.62,730.81 L67.35,730.70 L68.07,730.59 L68.80,730.47 L69.52,730.36 L70.25,730.24 L70.97,730.12 L71.69,729.99 L72.42,729.87 L73.14,729.74 L73.87,729.61 L74.59,729.48 L75.32,729.34 L76.04,729.21 L76.77,729.07 L77.49,728.92 L78.22,728.78 L78.94,728.63 L79.66,728.48 L80.39,728.33 L81.11,728.17 L81.84,728.02 L82.56,727.85 L83.29,727.69 L84.01,727.52 L84.74,727.35 L85.46,727.18 L86.19,727.01 L86.91,726.83 L87.63,726.64 L88.36,726.46 L89.08,726.27 L89.81,726.08 L90.53,725.88 L91.26,725.68 L91.98,725.48 L92.71,725.27 L93.43,725.06 L94.16,724.84 L94.88,724.62 L95.60,724.39 L96.33,724.16 L97.05,723.93 L97.78,723.69 L98.50,723.45 L99.23,723.20 L99.95,722.95 L100.68,722.69 L101.40,722.42 L102.13,722.15 L102.85,721.87 L103.57,721.59 L104.30,721.30 L105.02,721.01 L105.75,720.70 L106.47,720.39 L107.20,720.08 L107.92,719.75 L108.65,719.42 L109.37,719.08 L110.10,718.73 L110.82,718.37 L111.54,718.01 L112.27,717.63 L112.99,717.24 L113.72,716.85 L114.44,716.45 L115.17,716.03 L115.89,715.60 L116.62,715.17 L117.34,714.72 L118.07,714.26 L118.79,713.78 L119.51,713.30 L120.24,712.80 L120.96,712.29 L121.69,711.76 L122.41,711.22 L123.14,710.67 L123.86,710.10 L124.59,709.51 L125.31,708.91 L126.04,708.30 L126.76,707.66 L127.48,707.01 L128.21,706.34 L128.93,705.66 L129.66,704.95 L130.38,704.23 L131.11,703.49 L131.83,702.72 L132.56,701.94 L133.28,701.14 L134.01,700.32 L134.73,699.47 L135.45,698.60 L136.18,697.72 L136.90,696.80 L137.63,695.87 L138.35,694.91 L139.08,693.93 L139.80,692.93 L140.53,691.90 L141.25,690.85 L141.97,689.78 L142.70,688.68 L143.42,687.55 L144.15,686.40 L144.87,685.23 L145.60,684.02 L146.32,682.80 L147.05,681.55 L147.77,680.27 L148.50,678.97 L149.22,677.64 L149.94,676.29 L150.67,674.91 L151.39,673.51 L152.12,672.08 L152.84,670.63 L153.57,669.16 L154.29,667.66 L155.02,666.14 L155.74,664.59 L156.47,663.02 L157.19,661.43 L157.91,659.82 L158.64,658.19 L159.36,656.53 L160.09,654.86 L160.81,653.17 L161.54,651.46 L162.26,649.73 L162.99,647.99 L163.71,646.23 L164.44,644.46 L165.16,642.67 L165.88,640.87 L166.61,639.05 L167.33,637.23 L168.06,635.40 L168.78,633.56 L169.51,631.71 L170.23,629.86 L170.96,628.00 L171.68,626.13 L172.41,624.27 L173.13,622.41 L173.85,620.54 L174.58,618.68 L175.30,616.82 L176.03,614.96 L176.75,613.12 L177.48,611.27 L178.20,609.44 L178.93,607.62 L179.65,605.81 L180.38,604.01 L181.10,602.23 L181.82,600.46 L182.55,598.71 L183.27,596.97 L184.00,595.26 L184.72,593.57 L185.45,591.90 L186.17,590.25 L186.90,588.63 L187.62,587.03 L188.35,585.46 L189.07,583.92 L189.79,582.40 L190.52,580.92 L191.24,579.46 L191.97,578.04 L192.69,576.65 L193.42,575.29 L194.14,573.97 L194.87,572.67 L195.59,571.42 L196.32,570.20 L197.04,569.01 L197.76,567.86 L198.49,566.74 L199.21,565.66 L199.94,564.61 L200.66,563.60 L201.39,562.63 L202.11,561.69 L202.84,560.79 L203.56,559.92 L204.29,559.09 L205.01,558.28 L205.73,557.52 L206.46,556.78 L207.18,556.08 L207.91,555.41 L208.63,554.77 L209.36,554.15 L210.08,553.57 L210.81,553.01 L211.53,552.48 L212.26,551.98 L212.98,551.49 L213.70,551.03 L214.43,550.59 L215.15,550.18 L215.88,549.77 L216.60,549.39 L217.33,549.02 L218.05,548.66 L218.78,548.32 L219.50,547.99 L220.23,547.66 L220.95,547.34 L221.67,547.03 L222.40,546.72 L223.12,546.41 L223.85,546.10 L224.57,545.80 L225.30,545.48 L226.02,545.16 L226.75,544.84 L227.47,544.51 L228.20,544.16 L228.92,543.81 L229.64,543.44 L230.37,543.06 L231.09,542.66 L231.82,542.24 L232.54,541.80 L233.27,541.34 L233.99,540.86 L234.72,540.36 L235.44,539.83 L236.17,539.28 L236.89,538.70 L237.61,538.09 L238.34,537.45 L239.06,536.78 L239.79,536.08 L240.51,535.35 L241.24,534.58 L241.96,533.79 L242.69,532.96 L243.41,532.10 L244.14,531.20 L244.86,530.26 L245.58,529.30 L246.31,528.30 L247.03,527.26 L247.76,526.19 L248.48,525.08 L249.21,523.94 L249.93,522.76 L250.66,521.55 L251.38,520.31 L252.11,519.03 L252.83,517.72 L253.55,516.38 L254.28,515.01 L255.00,513.61 L255.73,512.18 L256.45,510.72 L257.18,509.23 L257.90,507.72 L258.63,506.18 L259.35,504.62 L260.08,503.03 L260.80,501.42 L261.52,499.80 L262.25,498.15 L262.97,496.49 L263.70,494.81 L264.42,493.12 L265.15,491.41 L265.87,489.70 L266.60,487.97 L267.32,486.24 L268.05,484.51 L268.77,482.77 L269.49,481.03 L270.22,479.29 L270.94,477.55 L271.67,475.81 L272.39,474.09 L273.12,472.37 L273.84,470.66 L274.57,468.96 L275.29,467.28 L276.02,465.62 L276.74,463.97 L277.46,462.34 L278.19,460.74 L278.91,459.15 L279.64,457.60 L280.36,456.07 L281.09,454.58 L281.81,453.11 L282.54,451.68 L283.26,450.29 L283.98,448.93 L284.71,447.61 L285.43,446.33 L286.16,445.10 L286.88,443.91 L287.61,442.76 L288.33,441.67 L289.06,440.62 L289.78,439.62 L290.51,438.68 L291.23,437.79 L291.95,436.95 L292.68,436.17 L293.40,435.45 L294.13,434.78 L294.85,434.18 L295.58,433.63 L296.30,433.15 L297.03,432.73 L297.75,432.37 L298.48,432.08 L299.20,431.85 L299.92,431.68 L300.65,431.58 L301.37,431.55 L302.10,431.59 L302.82,431.69 L303.55,431.86 L304.27,432.10 L305.00,432.40 L305.72,432.78 L306.45,433.22 L307.17,433.73 L307.89,434.31 L308.62,434.95 L309.34,435.66 L310.07,436.44 L310.79,437.29 L311.52,438.20 L312.24,439.17 L312.97,440.21 L313.69,441.32 L314.42,442.49 L315.14,443.72 L315.86,445.01 L316.59,446.37 L317.31,447.78 L318.04,449.26 L318.76,450.79 L319.49,452.38 L320.21,454.02 L320.94,455.72 L321.66,457.47 L322.39,459.28 L323.11,461.13 L323.83,463.04 L324.56,464.99 L325.28,466.99 L326.01,469.03 L326.73,471.12 L327.46,473.25 L328.18,475.42 L328.91,477.63 L329.63,479.87 L330.36,482.15 L331.08,484.47 L331.80,486.81 L332.53,489.19 L333.25,491.60 L333.98,494.03 L334.70,496.49 L335.43,498.98 L336.15,501.48 L336.88,504.01 L337.60,506.55 L338.33,509.11 L339.05,511.69 L339.77,514.28 L340.50,516.89 L341.22,519.50 L341.95,522.12 L342.67,524.75 L343.40,527.39 L344.12,530.03 L344.85,532.67 L345.57,535.31 L346.30,537.95 L347.02,540.60 L347.74,543.23 L348.47,545.87 L349.19,548.50 L349.92,551.12 L350.64,553.73 L351.37,556.34 L352.09,558.93 L352.82,561.51 L353.54,564.08 L354.27,566.63 L354.99,569.17 L355.71,571.69 L356.44,574.20 L357.16,576.69 L357.89,579.15 L358.61,581.60 L359.34,584.03 L360.06,586.43 L360.79,588.82 L361.51,591.18 L362.24,593.51 L362.96,595.82 L363.68,598.11 L364.41,600.37 L365.13,602.61 L365.86,604.81 L366.58,606.99 L367.31,609.15 L368.03,611.27 L368.76,613.37 L369.48,615.43 L370.21,617.47 L370.93,619.48 L371.65,621.46 L372.38,623.41 L373.10,625.33 L373.83,627.22 L374.55,629.08 L375.28,630.91 L376.00,632.71 L376.73,634.48 L377.45,636.22 L378.18,637.93 L378.90,639.61 L379.62,641.26 L380.35,642.88 L381.07,644.47 L381.80,646.03 L382.52,647.56 L383.25,649.06 L383.97,650.53 L384.70,651.98 L385.42,653.39 L386.15,654.78 L386.87,656.14 L387.59,657.47 L388.32,658.78 L389.04,660.06 L389.77,661.31 L390.49,662.54 L391.22,663.74 L391.94,664.92 L392.67,666.07 L393.39,667.19 L394.12,668.30 L394.84,669.37 L395.56,670.43 L396.29,671.46 L397.01,672.47 L397.74,673.46 L398.46,674.42 L399.19,675.37 L399.91,676.29 L400.64,677.19 L401.36,678.07 L402.09,678.93 L402.81,679.78 L403.53,680.60 L404.26,681.40 L404.98,682.19 L405.71,682.95 L406.43,683.70 L407.16,684.43 L407.88,685.15 L408.61,685.85 L409.33,686.53 L410.06,687.20 L410.78,687.85 L411.50,688.48 L412.23,689.10 L412.95,689.71 L413.68,690.30 L414.40,690.88 L415.13,691.45 L415.85,692.00 L416.58,692.54 L417.30,693.07 L418.03,693.58 L418.75,694.09 L419.47,694.58 L420.20,695.06 L420.92,695.53 L421.65,695.99 L422.37,696.43 L423.10,696.87 L423.82,697.30 L424.55,697.72 L425.27,698.13 L425.99,698.53 L426.72,698.92 L427.44,699.30 L428.17,699.67 L428.89,700.04 L429.62,700.40 L430.34,700.74 L431.07,701.09 L431.79,701.42 L432.52,701.75 L433.24,702.07 L433.96,702.38 L434.69,702.68 L435.41,702.98 L436.14,703.27 L436.86,703.56 L437.59,703.84 L438.31,704.11 L439.04,704.38 L439.76,704.64 L440.49,704.89 L441.21,705.14 L441.93,705.39 L442.66,705.63 L443.38,705.86 L444.11,706.09 L444.83,706.31 L445.56,706.53 L446.28,706.74 L447.01,706.95 L447.73,707.15 L448.46,707.35 L449.18,707.54 L449.90,707.73 L450.63,707.91 L451.35,708.09 L452.08,708.26 L452.80,708.43 L453.53,708.60 L454.25,708.76 L454.98,708.92 L455.70,709.07 L456.43,709.22 L457.15,709.36 L457.87,709.50 L458.60,709.64 L459.32,709.77 L460.05,709.90 L460.77,710.03 L461.50,710.15 L462.22,710.26 L462.95,710.37 L463.67,710.48 L464.40,710.59 L465.12,710.69 L465.84,710.78 L466.57,710.88 L467.29,710.97 L468.02,711.05 L468.74,711.13 L469.47,711.21 L470.19,711.28 L470.92,711.35 L471.64,711.42 L472.37,711.48 L473.09,711.54 L473.81,711.60 L474.54,711.65 L475.26,711.70 L475.99,711.74 L476.71,711.78 L477.44,711.82 L478.16,711.85 L478.89,711.88 L479.61,711.90 L480.34,711.92 L481.06,711.94 L481.78,711.96 L482.51,711.97 L483.23,711.97 L483.96,711.98 L484.68,711.98 L485.41,711.97 L486.13,711.96 L486.86,711.95 L487.58,711.94 L488.31,711.92 L489.03,711.89 L489.75,711.87 L490.48,711.84 L491.20,711.80 L491.93,711.77 L492.65,711.72 L493.38,711.68 L494.10,711.63 L494.83,711.58 L495.55,711.52 L496.28,711.46 L497.00,711.40" stroke="#000" stroke-width="4.5"/>
<path d="M63.00,731.73 L63.72,731.71 L64.45,731.69 L65.17,731.66 L65.90,731.62 L66.62,731.57 L67.35,731.52 L68.07,731.46 L68.80,731.39 L69.52,731.32 L70.25,731.25 L70.97,731.16 L71.69,731.08 L72.42,730.98 L73.14,730.89 L73.87,730.79 L74.59,730.68 L75.32,730.57 L76.04,730.46 L76.77,730.34 L77.49,730.22 L78.22,730.09 L78.94,729.97 L79.66,729.84 L80.39,729.71 L81.11,729.57 L81.84,729.44 L82.56,729.30 L83.29,729.16 L84.01,729.02 L84.74,728.88 L85.46,728.74 L86.19,728.60 L86.91,728.44 L87.63,728.28 L88.36,728.11 L89.08,727.93 L89.81,727.74 L90.53,727.54 L91.26,727.34 L91.98,727.13 L92.71,726.90 L93.43,726.68 L94.16,726.44 L94.88,726.20 L95.60,725.94 L96.33,725.69 L97.05,725.42 L97.78,725.15 L98.50,724.87 L99.23,724.58 L99.95,724.29 L100.68,723.99 L101.40,723.68 L102.13,723.37 L102.85,723.05 L103.57,722.72 L104.30,722.39 L105.02,722.06 L105.75,721.72 L106.47,721.37 L107.20,721.02 L107.92,720.66 L108.65,720.29 L109.37,719.93 L110.10,719.55 L110.82,719.18 L111.54,718.79 L112.27,718.40 L112.99,717.99 L113.72,717.56 L114.44,717.12 L115.17,716.66 L115.89,716.19 L116.62,715.71 L117.34,715.21 L118.07,714.70 L118.79,714.17 L119.51,713.63 L120.24,713.08 L120.96,712.51 L121.69,711.93 L122.41,711.33 L123.14,710.73 L123.86,710.10 L124.59,709.47 L125.31,708.82 L126.04,708.16 L126.76,707.49 L127.48,706.81 L128.21,706.11 L128.93,705.40 L129.66,704.68 L130.38,703.94 L131.11,703.20 L131.83,702.44 L132.56,701.67 L133.28,700.89 L134.01,700.10 L134.73,699.30 L135.45,698.48 L136.18,697.66 L136.90,696.82 L137.63,695.95 L138.35,695.01 L139.08,694.01 L139.80,692.95 L140.53,691.85 L141.25,690.71 L141.97,689.53 L142.70,688.32 L143.42,687.08 L144.15,685.83 L144.87,684.56 L145.60,683.29 L146.32,682.01 L147.05,680.74 L147.77,679.49 L148.50,678.25 L149.22,677.03 L149.94,675.84 L150.67,674.66 L151.39,673.46 L152.12,672.26 L152.84,671.05 L153.57,669.83 L154.29,668.62 L155.02,667.40 L155.74,666.18 L156.47,664.97 L157.19,663.76 L157.91,662.56 L158.64,661.37 L159.36,660.18 L160.09,659.02 L160.81,657.86 L161.54,656.73 L162.26,655.61 L162.99,654.51 L163.71,653.42 L164.44,652.35 L165.16,651.28 L165.88,650.22 L166.61,649.17 L167.33,648.13 L168.06,647.10 L168.78,646.08 L169.51,645.06 L170.23,644.06 L170.96,643.06 L171.68,642.07 L172.41,641.09 L173.13,640.11 L173.85,639.14 L174.58,638.18 L175.30,637.22 L176.03,636.27 L176.75,635.32 L177.48,634.36 L178.20,633.40 L178.93,632.45 L179.65,631.50 L180.38,630.55 L181.10,629.61 L181.82,628.69 L182.55,627.77 L183.27,626.88 L184.00,625.99 L184.72,625.13 L185.45,624.29 L186.17,623.47 L186.90,622.68 L187.62,621.91 L188.35,621.18 L189.07,620.46 L189.79,619.76 L190.52,619.06 L191.24,618.38 L191.97,617.71 L192.69,617.05 L193.42,616.40 L194.14,615.76 L194.87,615.14 L195.59,614.52 L196.32,613.92 L197.04,613.33 L197.76,612.75 L198.49,612.18 L199.21,611.62 L199.94,611.08 L200.66,610.55 L201.39,610.03 L202.11,609.52 L202.84,609.03 L203.56,608.55 L204.29,608.08 L205.01,607.63 L205.73,607.19 L206.46,606.76 L207.18,606.35 L207.91,605.94 L208.63,605.55 L209.36,605.16 L210.08,604.79 L210.81,604.41 L211.53,604.04 L212.26,603.68 L212.98,603.32 L213.70,602.96 L214.43,602.60 L215.15,602.24 L215.88,601.87 L216.60,601.51 L217.33,601.14 L218.05,600.76 L218.78,600.38 L219.50,599.99 L220.23,599.60 L220.95,599.23 L221.67,598.86 L222.40,598.50 L223.12,598.15 L223.85,597.80 L224.57,597.45 L225.30,597.10 L226.02,596.75 L226.75,596.40 L227.47,596.05 L228.20,595.70 L228.92,595.34 L229.64,594.98 L230.37,594.61 L231.09,594.23 L231.82,593.84 L232.54,593.44 L233.27,593.03 L233.99,592.61 L234.72,592.17 L235.44,591.72 L236.17,591.25 L236.89,590.76 L237.61,590.25 L238.34,589.73 L239.06,589.17 L239.79,588.57 L240.51,587.93 L241.24,587.25 L241.96,586.53 L242.69,585.79 L243.41,585.01 L244.14,584.20 L244.86,583.37 L245.58,582.52 L246.31,581.65 L247.03,580.77 L247.76,579.87 L248.48,578.97 L249.21,578.06 L249.93,577.15 L250.66,576.23 L251.38,575.32 L252.11,574.40 L252.83,573.43 L253.55,572.43 L254.28,571.40 L255.00,570.35 L255.73,569.28 L256.45,568.19 L257.18,567.10 L257.90,565.99 L258.63,564.89 L259.35,563.79 L260.08,562.70 L260.80,561.62 L261.52,560.57 L262.25,559.53 L262.97,558.52 L263.70,557.55 L264.42,556.60 L265.15,555.66 L265.87,554.69 L266.60,553.72 L267.32,552.75 L268.05,551.77 L268.77,550.80 L269.49,549.85 L270.22,548.91 L270.94,547.99 L271.67,547.11 L272.39,546.26 L273.12,545.44 L273.84,544.68 L274.57,543.96 L275.29,543.31 L276.02,542.71 L276.74,542.18 L277.46,541.71 L278.19,541.25 L278.91,540.78 L279.64,540.33 L280.36,539.87 L281.09,539.43 L281.81,538.99 L282.54,538.56 L283.26,538.15 L283.98,537.75 L284.71,537.36 L285.43,536.99 L286.16,536.64 L286.88,536.30 L287.61,535.99 L288.33,535.70 L289.06,535.43 L289.78,535.19 L290.51,534.97 L291.23,534.78 L291.95,534.63 L292.68,534.50 L293.40,534.41 L294.13,534.35 L294.85,534.33 L295.58,534.35 L296.30,534.43 L297.03,534.57 L297.75,534.75 L298.48,534.99 L299.20,535.26 L299.92,535.58 L300.65,535.93 L301.37,536.32 L302.10,536.74 L302.82,537.18 L303.55,537.65 L304.27,538.13 L305.00,538.63 L305.72,539.15 L306.45,539.67 L307.17,540.20 L307.89,540.73 L308.62,541.31 L309.34,541.98 L310.07,542.74 L310.79,543.58 L311.52,544.48 L312.24,545.45 L312.97,546.47 L313.69,547.54 L314.42,548.65 L315.14,549.79 L315.86,550.96 L316.59,552.15 L317.31,553.35 L318.04,554.55 L318.76,555.75 L319.49,556.94 L320.21,558.11 L320.94,559.27 L321.66,560.42 L322.39,561.57 L323.11,562.74 L323.83,563.92 L324.56,565.12 L325.28,566.33 L326.01,567.56 L326.73,568.80 L327.46,570.08 L328.18,571.37 L328.91,572.69 L329.63,574.05 L330.36,575.43 L331.08,576.85 L331.80,578.30 L332.53,579.79 L333.25,581.32 L333.98,582.91 L334.70,584.64 L335.43,586.46 L336.15,588.37 L336.88,590.32 L337.60,592.29 L338.33,594.26 L339.05,596.19 L339.77,598.07 L340.50,599.88 L341.22,601.70 L341.95,603.53 L342.67,605.36 L343.40,607.18 L344.12,609.01 L344.85,610.83 L345.57,612.63 L346.30,614.42 L347.02,616.20 L347.74,617.95 L348.47,619.68 L349.19,621.38 L349.92,623.04 L350.64,624.67 L351.37,626.27 L352.09,627.82 L352.82,629.32 L353.54,630.79 L354.27,632.24 L354.99,633.66 L355.71,635.05 L356.44,636.43 L357.16,637.78 L357.89,639.11 L358.61,640.42 L359.34,641.71 L360.06,642.99 L360.79,644.24 L361.51,645.47 L362.24,646.69 L362.96,647.89 L363.68,649.08 L364.41,650.25 L365.13,651.41 L365.86,652.55 L366.58,653.68 L367.31,654.79 L368.03,655.89 L368.76,656.98 L369.48,658.06 L370.21,659.12 L370.93,660.16 L371.65,661.20 L372.38,662.22 L373.10,663.22 L373.83,664.21 L374.55,665.19 L375.28,666.16 L376.00,667.11 L376.73,668.04 L377.45,668.96 L378.18,669.87 L378.90,670.77 L379.62,671.65 L380.35,672.54 L381.07,673.42 L381.80,674.29 L382.52,675.16 L383.25,676.01 L383.97,676.85 L384.70,677.68 L385.42,678.49 L386.15,679.29 L386.87,680.07 L387.59,680.83 L388.32,681.57 L389.04,682.29 L389.77,682.99 L390.49,683.66 L391.22,684.30 L391.94,684.92 L392.67,685.52 L393.39,686.10 L394.12,686.67 L394.84,687.22 L395.56,687.76 L396.29,688.28 L397.01,688.79 L397.74,689.30 L398.46,689.79 L399.19,690.27 L399.91,690.75 L400.64,691.22 L401.36,691.68 L402.09,692.14 L402.81,692.60 L403.53,693.05 L404.26,693.50 L404.98,693.95 L405.71,694.40 L406.43,694.85 L407.16,695.30 L407.88,695.74 L408.61,696.18 L409.33,696.62 L410.06,697.04 L410.78,697.46 L411.50,697.88 L412.23,698.28 L412.95,698.67 L413.68,699.05 L414.40,699.43 L415.13,699.78 L415.85,700.13 L416.58,700.45 L417.30,700.77 L418.03,701.07 L418.75,701.37 L419.47,701.66 L420.20,701.94 L420.92,702.22 L421.65,702.49 L422.37,702.76 L423.10,703.02 L423.82,703.27 L424.55,703.51 L425.27,703.75 L425.99,703.98 L426.72,704.20 L427.44,704.42 L428.17,704.62 L428.89,704.82 L429.62,705.01 L430.34,705.20 L431.07,705.37 L431.79,705.54 L432.52,705.71 L433.24,705.87 L433.96,706.03 L434.69,706.18 L435.41,706.33 L436.14,706.47 L436.86,706.61 L437.59,706.75 L438.31,706.88 L439.04,707.01 L439.76,707.14 L440.49,707.27 L441.21,707.39 L441.93,707.51 L442.66,707.63 L443.38,707.75 L444.11,707.87 L444.83,707.99 L445.56,708.10 L446.28,708.22 L447.01,708.33 L447.73,708.44 L448.46,708.55 L449.18,708.65 L449.90,708.76 L450.63,708.86 L451.35,708.95 L452.08,709.05 L452.80,709.14 L453.53,709.23 L454.25,709.31 L454.98,709.39 L455.70,709.47 L456.43,709.55 L457.15,709.62 L457.87,709.69 L458.60,709.76 L459.32,709.83 L460.05,709.90 L460.77,709.96 L461.50,710.03 L462.22,710.09 L462.95,710.15 L463.67,710.21 L464.40,710.26 L465.12,710.31 L465.84,710.36 L466.57,710.41 L467.29,710.45 L468.02,710.49 L468.74,710.53 L469.47,710.57 L470.19,710.61 L470.92,710.64 L471.64,710.68 L472.37,710.72 L473.09,710.75 L473.81,710.79 L474.54,710.82 L475.26,710.86 L475.99,710.89 L476.71,710.93 L477.44,710.96 L478.16,710.99 L478.89,711.03 L479.61,711.06 L480.34,711.09 L481.06,711.12 L481.78,711.15 L482.51,711.18 L483.23,711.20 L483.96,711.23 L484.68,711.26 L485.41,711.28 L486.13,711.31 L486.86,711.33 L487.58,711.35 L488.31,711.37 L489.03,711.39 L489.75,711.41 L490.48,711.42 L491.20,711.44 L491.93,711.45 L492.65,711.46 L493.38,711.47 L494.10,711.48 L494.83,711.49 L495.55,711.49 L496.28,711.50 L497.00,711.50" stroke="#0000ff" stroke-width="3.2" stroke-dasharray="3.7 7.1" stroke-linecap="round"/>
</g>
<g clip-path="url(#ca)">
<g fill="#800000"><circle cx="63.00" cy="740.00" r="1.4"/><circle cx="66.30" cy="740.00" r="1.4"/><circle cx="69.60" cy="740.00" r="1.4"/><circle cx="72.90" cy="740.00" r="1.4"/><circle cx="76.20" cy="740.00" r="1.4"/><circle cx="79.50" cy="740.00" r="1.4"/><circle cx="82.80" cy="740.00" r="1.4"/><circle cx="86.10" cy="740.00" r="1.4"/><circle cx="89.40" cy="740.00" r="1.4"/><circle cx="92.70" cy="740.00" r="1.4"/><circle cx="96.00" cy="740.00" r="1.4"/><circle cx="99.30" cy="740.00" r="1.4"/><circle cx="102.60" cy="740.00" r="1.4"/><circle cx="105.90" cy="740.00" r="1.4"/><circle cx="109.20" cy="740.00" r="1.4"/><circle cx="112.50" cy="740.00" r="1.4"/><circle cx="115.80" cy="739.99" r="1.4"/><circle cx="119.10" cy="739.99" r="1.4"/><circle cx="122.40" cy="739.99" r="1.4"/><circle cx="125.70" cy="739.98" r="1.4"/><circle cx="129.00" cy="739.97" r="1.4"/><circle cx="132.30" cy="739.96" r="1.4"/><circle cx="135.60" cy="739.95" r="1.4"/><circle cx="138.90" cy="739.93" r="1.4"/><circle cx="142.20" cy="739.90" r="1.4"/><circle cx="145.50" cy="739.86" r="1.4"/><circle cx="148.80" cy="739.82" r="1.4"/><circle cx="152.10" cy="739.75" r="1.4"/><circle cx="155.40" cy="739.67" r="1.4"/><circle cx="158.70" cy="739.56" r="1.4"/><circle cx="162.00" cy="739.42" r="1.4"/><circle cx="165.30" cy="739.24" r="1.4"/><circle cx="168.60" cy="739.01" r="1.4"/><circle cx="171.90" cy="738.72" r="1.4"/><circle cx="175.20" cy="738.35" r="1.4"/><circle cx="178.50" cy="737.88" r="1.4"/><circle cx="181.80" cy="737.31" r="1.4"/><circle cx="185.10" cy="736.60" r="1.4"/><circle cx="188.40" cy="735.74" r="1.4"/><circle cx="191.70" cy="734.68" r="1.4"/><circle cx="195.00" cy="733.41" r="1.4"/><circle cx="198.30" cy="731.89" r="1.4"/><circle cx="201.60" cy="730.07" r="1.4"/><circle cx="204.90" cy="727.93" r="1.4"/><circle cx="208.20" cy="725.42" r="1.4"/><circle cx="211.50" cy="722.50" r="1.4"/><circle cx="214.80" cy="719.13" r="1.4"/><circle cx="218.10" cy="715.26" r="1.4"/><circle cx="221.40" cy="710.87" r="1.4"/><circle cx="224.70" cy="705.92" r="1.4"/><circle cx="228.00" cy="700.37" r="1.4"/><circle cx="231.30" cy="694.22" r="1.4"/><circle cx="234.60" cy="687.45" r="1.4"/><circle cx="237.90" cy="680.06" r="1.4"/><circle cx="241.20" cy="672.07" r="1.4"/><circle cx="244.50" cy="663.50" r="1.4"/><circle cx="247.80" cy="654.40" r="1.4"/><circle cx="251.10" cy="644.82" r="1.4"/><circle cx="254.40" cy="634.85" r="1.4"/><circle cx="257.70" cy="624.57" r="1.4"/><circle cx="261.00" cy="614.08" r="1.4"/><circle cx="264.30" cy="603.53" r="1.4"/><circle cx="267.60" cy="593.02" r="1.4"/><circle cx="270.90" cy="582.72" r="1.4"/><circle cx="274.20" cy="572.76" r="1.4"/><circle cx="277.50" cy="563.30" r="1.4"/><circle cx="280.80" cy="554.50" r="1.4"/><circle cx="284.10" cy="546.50" r="1.4"/><circle cx="287.40" cy="539.43" r="1.4"/><circle cx="290.70" cy="533.43" r="1.4"/><circle cx="294.00" cy="528.60" r="1.4"/><circle cx="297.30" cy="525.03" r="1.4"/><circle cx="300.60" cy="522.79" r="1.4"/><circle cx="303.90" cy="521.93" r="1.4"/><circle cx="307.20" cy="522.46" r="1.4"/><circle cx="310.50" cy="524.36" r="1.4"/><circle cx="313.80" cy="527.60" r="1.4"/><circle cx="317.10" cy="532.13" r="1.4"/><circle cx="320.40" cy="537.86" r="1.4"/><circle cx="323.70" cy="544.67" r="1.4"/><circle cx="327.00" cy="552.46" r="1.4"/><circle cx="330.30" cy="561.08" r="1.4"/><circle cx="333.60" cy="570.39" r="1.4"/><circle cx="336.90" cy="580.24" r="1.4"/><circle cx="340.20" cy="590.48" r="1.4"/><circle cx="343.50" cy="600.94" r="1.4"/><circle cx="346.80" cy="611.50" r="1.4"/><circle cx="350.10" cy="622.01" r="1.4"/><circle cx="353.40" cy="632.35" r="1.4"/><circle cx="356.70" cy="642.41" r="1.4"/><circle cx="360.00" cy="652.09" r="1.4"/><circle cx="363.30" cy="661.32" r="1.4"/><circle cx="366.60" cy="670.02" r="1.4"/><circle cx="369.90" cy="678.16" r="1.4"/><circle cx="373.20" cy="685.70" r="1.4"/><circle cx="376.50" cy="692.62" r="1.4"/><circle cx="379.80" cy="698.92" r="1.4"/><circle cx="383.10" cy="704.61" r="1.4"/><circle cx="386.40" cy="709.71" r="1.4"/><circle cx="389.70" cy="714.24" r="1.4"/><circle cx="393.00" cy="718.23" r="1.4"/><circle cx="396.30" cy="721.72" r="1.4"/><circle cx="399.60" cy="724.74" r="1.4"/><circle cx="402.90" cy="727.35" r="1.4"/><circle cx="406.20" cy="729.58" r="1.4"/><circle cx="409.50" cy="731.47" r="1.4"/><circle cx="412.80" cy="733.06" r="1.4"/><circle cx="416.10" cy="734.39" r="1.4"/><circle cx="419.40" cy="735.50" r="1.4"/><circle cx="422.70" cy="736.41" r="1.4"/><circle cx="426.00" cy="737.15" r="1.4"/><circle cx="429.30" cy="737.76" r="1.4"/><circle cx="432.60" cy="738.24" r="1.4"/><circle cx="435.90" cy="738.63" r="1.4"/><circle cx="439.20" cy="738.94" r="1.4"/><circle cx="442.50" cy="739.19" r="1.4"/><circle cx="445.80" cy="739.38" r="1.4"/><circle cx="449.10" cy="739.53" r="1.4"/><circle cx="452.40" cy="739.65" r="1.4"/><circle cx="455.70" cy="739.74" r="1.4"/><circle cx="459.00" cy="739.80" r="1.4"/><circle cx="462.30" cy="739.85" r="1.4"/><circle cx="465.60" cy="739.89" r="1.4"/><circle cx="468.90" cy="739.92" r="1.4"/><circle cx="472.20" cy="739.94" r="1.4"/><circle cx="475.50" cy="739.96" r="1.4"/><circle cx="478.80" cy="739.97" r="1.4"/><circle cx="482.10" cy="739.98" r="1.4"/><circle cx="485.40" cy="739.99" r="1.4"/><circle cx="488.70" cy="739.99" r="1.4"/><circle cx="492.00" cy="739.99" r="1.4"/><circle cx="495.30" cy="740.00" r="1.4"/></g>
<g fill="#ff00ff"><circle cx="68.05" cy="733.62" r="1.6"/><circle cx="75.00" cy="732.47" r="1.6"/><circle cx="81.95" cy="731.15" r="1.6"/><circle cx="88.90" cy="729.67" r="1.6"/><circle cx="95.85" cy="728.00" r="1.6"/><circle cx="102.80" cy="726.13" r="1.6"/><circle cx="109.75" cy="724.07" r="1.6"/><circle cx="116.70" cy="721.80" r="1.6"/><circle cx="123.65" cy="719.32" r="1.6"/><circle cx="130.60" cy="716.63" r="1.6"/><circle cx="137.55" cy="713.73" r="1.6"/><circle cx="144.50" cy="710.64" r="1.6"/><circle cx="151.45" cy="707.36" r="1.6"/><circle cx="158.40" cy="703.92" r="1.6"/><circle cx="165.35" cy="700.33" r="1.6"/><circle cx="172.30" cy="696.63" r="1.6"/><circle cx="179.25" cy="692.84" r="1.6"/><circle cx="186.20" cy="689.00" r="1.6"/><circle cx="193.15" cy="685.15" r="1.6"/><circle cx="200.10" cy="681.33" r="1.6"/><circle cx="207.05" cy="677.58" r="1.6"/><circle cx="214.00" cy="673.97" r="1.6"/><circle cx="220.95" cy="670.53" r="1.6"/><circle cx="227.90" cy="667.30" r="1.6"/><circle cx="234.85" cy="664.35" r="1.6"/><circle cx="241.80" cy="661.71" r="1.6"/><circle cx="248.75" cy="659.42" r="1.6"/><circle cx="255.70" cy="657.52" r="1.6"/><circle cx="262.65" cy="656.03" r="1.6"/><circle cx="269.60" cy="654.99" r="1.6"/><circle cx="276.55" cy="654.40" r="1.6"/><circle cx="283.50" cy="654.29" r="1.6"/><circle cx="290.45" cy="654.64" r="1.6"/><circle cx="297.40" cy="655.46" r="1.6"/><circle cx="304.35" cy="656.73" r="1.6"/><circle cx="311.30" cy="658.43" r="1.6"/><circle cx="318.25" cy="660.53" r="1.6"/><circle cx="325.20" cy="663.01" r="1.6"/><circle cx="332.15" cy="665.81" r="1.6"/><circle cx="339.10" cy="668.91" r="1.6"/><circle cx="346.05" cy="672.25" r="1.6"/><circle cx="353.00" cy="675.79" r="1.6"/><circle cx="359.95" cy="679.47" r="1.6"/><circle cx="366.90" cy="683.26" r="1.6"/><circle cx="373.85" cy="687.10" r="1.6"/><circle cx="380.80" cy="690.95" r="1.6"/><circle cx="387.75" cy="694.77" r="1.6"/><circle cx="394.70" cy="698.52" r="1.6"/><circle cx="401.65" cy="702.17" r="1.6"/><circle cx="408.60" cy="705.69" r="1.6"/><circle cx="415.55" cy="709.05" r="1.6"/><circle cx="422.50" cy="712.23" r="1.6"/><circle cx="429.45" cy="715.23" r="1.6"/><circle cx="436.40" cy="718.02" r="1.6"/><circle cx="443.35" cy="720.60" r="1.6"/><circle cx="450.30" cy="722.98" r="1.6"/><circle cx="457.25" cy="725.14" r="1.6"/><circle cx="464.20" cy="727.10" r="1.6"/><circle cx="471.15" cy="728.87" r="1.6"/><circle cx="478.10" cy="730.44" r="1.6"/><circle cx="485.05" cy="731.84" r="1.6"/><circle cx="492.00" cy="733.07" r="1.6"/></g>
<g fill="#0000ff"><circle cx="63.00" cy="739.99" r="1.35"/><circle cx="65.90" cy="739.99" r="1.35"/><circle cx="68.80" cy="739.98" r="1.35"/><circle cx="71.70" cy="739.97" r="1.35"/><circle cx="74.60" cy="739.96" r="1.35"/><circle cx="77.50" cy="739.94" r="1.35"/><circle cx="80.40" cy="739.92" r="1.35"/><circle cx="83.30" cy="739.89" r="1.35"/><circle cx="86.20" cy="739.85" r="1.35"/><circle cx="89.10" cy="739.79" r="1.35"/><circle cx="92.00" cy="739.72" r="1.35"/><circle cx="94.90" cy="739.62" r="1.35"/><circle cx="97.80" cy="739.48" r="1.35"/><circle cx="100.70" cy="739.31" r="1.35"/><circle cx="103.60" cy="739.09" r="1.35"/><circle cx="106.50" cy="738.80" r="1.35"/><circle cx="109.40" cy="738.44" r="1.35"/><circle cx="112.30" cy="737.99" r="1.35"/><circle cx="115.20" cy="737.43" r="1.35"/><circle cx="118.10" cy="736.74" r="1.35"/><circle cx="121.00" cy="735.89" r="1.35"/><circle cx="123.90" cy="734.86" r="1.35"/><circle cx="126.80" cy="733.63" r="1.35"/><circle cx="129.70" cy="732.17" r="1.35"/><circle cx="132.60" cy="730.44" r="1.35"/><circle cx="135.50" cy="728.44" r="1.35"/><circle cx="138.40" cy="726.12" r="1.35"/><circle cx="141.30" cy="723.48" r="1.35"/><circle cx="144.20" cy="720.48" r="1.35"/><circle cx="147.10" cy="717.14" r="1.35"/><circle cx="150.00" cy="713.43" r="1.35"/><circle cx="152.90" cy="709.37" r="1.35"/><circle cx="155.80" cy="704.97" r="1.35"/><circle cx="158.70" cy="700.27" r="1.35"/><circle cx="161.60" cy="695.29" r="1.35"/><circle cx="164.50" cy="690.09" r="1.35"/><circle cx="167.40" cy="684.74" r="1.35"/><circle cx="170.30" cy="679.31" r="1.35"/><circle cx="173.20" cy="673.88" r="1.35"/><circle cx="176.10" cy="668.53" r="1.35"/><circle cx="179.00" cy="663.38" r="1.35"/><circle cx="181.90" cy="658.52" r="1.35"/><circle cx="184.80" cy="654.05" r="1.35"/><circle cx="187.70" cy="650.05" r="1.35"/><circle cx="190.60" cy="646.63" r="1.35"/><circle cx="193.50" cy="643.86" r="1.35"/><circle cx="196.40" cy="641.80" r="1.35"/><circle cx="199.30" cy="640.50" r="1.35"/><circle cx="202.20" cy="639.99" r="1.35"/><circle cx="205.10" cy="640.29" r="1.35"/><circle cx="208.00" cy="641.39" r="1.35"/><circle cx="210.90" cy="643.25" r="1.35"/><circle cx="213.80" cy="645.85" r="1.35"/><circle cx="216.70" cy="649.11" r="1.35"/><circle cx="219.60" cy="652.96" r="1.35"/><circle cx="222.50" cy="657.32" r="1.35"/><circle cx="225.40" cy="662.10" r="1.35"/><circle cx="228.30" cy="667.18" r="1.35"/><circle cx="231.20" cy="672.48" r="1.35"/><circle cx="234.10" cy="677.90" r="1.35"/><circle cx="237.00" cy="683.34" r="1.35"/><circle cx="239.90" cy="688.72" r="1.35"/><circle cx="242.80" cy="693.97" r="1.35"/><circle cx="245.70" cy="699.01" r="1.35"/><circle cx="248.60" cy="703.79" r="1.35"/><circle cx="251.50" cy="708.27" r="1.35"/><circle cx="254.40" cy="712.41" r="1.35"/><circle cx="257.30" cy="716.21" r="1.35"/><circle cx="260.20" cy="719.65" r="1.35"/><circle cx="263.10" cy="722.74" r="1.35"/><circle cx="266.00" cy="725.47" r="1.35"/><circle cx="268.90" cy="727.87" r="1.35"/><circle cx="271.80" cy="729.95" r="1.35"/><circle cx="274.70" cy="731.75" r="1.35"/><circle cx="277.60" cy="733.27" r="1.35"/><circle cx="280.50" cy="734.56" r="1.35"/><circle cx="283.40" cy="735.64" r="1.35"/><circle cx="286.30" cy="736.53" r="1.35"/><circle cx="289.20" cy="737.26" r="1.35"/><circle cx="292.10" cy="737.86" r="1.35"/><circle cx="295.00" cy="738.34" r="1.35"/><circle cx="297.90" cy="738.72" r="1.35"/><circle cx="300.80" cy="739.02" r="1.35"/><circle cx="303.70" cy="739.26" r="1.35"/><circle cx="306.60" cy="739.44" r="1.35"/><circle cx="309.50" cy="739.58" r="1.35"/><circle cx="312.40" cy="739.69" r="1.35"/><circle cx="315.30" cy="739.77" r="1.35"/><circle cx="318.20" cy="739.84" r="1.35"/><circle cx="321.10" cy="739.88" r="1.35"/><circle cx="324.00" cy="739.92" r="1.35"/><circle cx="326.90" cy="739.94" r="1.35"/><circle cx="329.80" cy="739.96" r="1.35"/><circle cx="332.70" cy="739.97" r="1.35"/><circle cx="335.60" cy="739.98" r="1.35"/><circle cx="338.50" cy="739.99" r="1.35"/><circle cx="341.40" cy="739.99" r="1.35"/><circle cx="344.30" cy="739.99" r="1.35"/><circle cx="347.20" cy="740.00" r="1.35"/><circle cx="350.10" cy="740.00" r="1.35"/><circle cx="353.00" cy="740.00" r="1.35"/><circle cx="355.90" cy="740.00" r="1.35"/><circle cx="358.80" cy="740.00" r="1.35"/><circle cx="361.70" cy="740.00" r="1.35"/><circle cx="364.60" cy="740.00" r="1.35"/><circle cx="367.50" cy="740.00" r="1.35"/><circle cx="370.40" cy="740.00" r="1.35"/><circle cx="373.30" cy="740.00" r="1.35"/><circle cx="376.20" cy="740.00" r="1.35"/><circle cx="379.10" cy="740.00" r="1.35"/><circle cx="382.00" cy="740.00" r="1.35"/><circle cx="384.90" cy="740.00" r="1.35"/><circle cx="387.80" cy="740.00" r="1.35"/><circle cx="390.70" cy="740.00" r="1.35"/><circle cx="393.60" cy="740.00" r="1.35"/><circle cx="396.50" cy="740.00" r="1.35"/><circle cx="399.40" cy="740.00" r="1.35"/><circle cx="402.30" cy="740.00" r="1.35"/><circle cx="405.20" cy="740.00" r="1.35"/><circle cx="408.10" cy="740.00" r="1.35"/><circle cx="411.00" cy="740.00" r="1.35"/><circle cx="413.90" cy="740.00" r="1.35"/><circle cx="416.80" cy="740.00" r="1.35"/><circle cx="419.70" cy="740.00" r="1.35"/><circle cx="422.60" cy="740.00" r="1.35"/><circle cx="425.50" cy="740.00" r="1.35"/><circle cx="428.40" cy="740.00" r="1.35"/><circle cx="431.30" cy="740.00" r="1.35"/><circle cx="434.20" cy="740.00" r="1.35"/><circle cx="437.10" cy="740.00" r="1.35"/><circle cx="440.00" cy="740.00" r="1.35"/><circle cx="442.90" cy="740.00" r="1.35"/><circle cx="445.80" cy="740.00" r="1.35"/><circle cx="448.70" cy="740.00" r="1.35"/><circle cx="451.60" cy="740.00" r="1.35"/><circle cx="454.50" cy="740.00" r="1.35"/><circle cx="457.40" cy="740.00" r="1.35"/><circle cx="460.30" cy="740.00" r="1.35"/><circle cx="463.20" cy="740.00" r="1.35"/><circle cx="466.10" cy="740.00" r="1.35"/><circle cx="469.00" cy="740.00" r="1.35"/><circle cx="471.90" cy="740.00" r="1.35"/><circle cx="474.80" cy="740.00" r="1.35"/><circle cx="477.70" cy="740.00" r="1.35"/><circle cx="480.60" cy="740.00" r="1.35"/><circle cx="483.50" cy="740.00" r="1.35"/><circle cx="486.40" cy="740.00" r="1.35"/><circle cx="489.30" cy="740.00" r="1.35"/><circle cx="492.20" cy="740.00" r="1.35"/><circle cx="495.10" cy="740.00" r="1.35"/></g>
<g fill="#00ff00"><circle cx="63.00" cy="731.33" r="1.38"/><circle cx="66.50" cy="730.83" r="1.38"/><circle cx="70.00" cy="730.28" r="1.38"/><circle cx="73.50" cy="729.68" r="1.38"/><circle cx="77.00" cy="729.02" r="1.38"/><circle cx="80.50" cy="728.31" r="1.38"/><circle cx="84.00" cy="727.53" r="1.38"/><circle cx="87.50" cy="726.68" r="1.38"/><circle cx="91.00" cy="725.75" r="1.38"/><circle cx="94.50" cy="724.73" r="1.38"/><circle cx="98.00" cy="723.62" r="1.38"/><circle cx="101.50" cy="722.38" r="1.38"/><circle cx="105.00" cy="721.01" r="1.38"/><circle cx="108.50" cy="719.49" r="1.38"/><circle cx="112.00" cy="717.77" r="1.38"/><circle cx="115.50" cy="715.84" r="1.38"/><circle cx="119.00" cy="713.64" r="1.38"/><circle cx="122.50" cy="711.16" r="1.38"/><circle cx="126.00" cy="708.33" r="1.38"/><circle cx="129.50" cy="705.11" r="1.38"/><circle cx="133.00" cy="701.45" r="1.38"/><circle cx="136.50" cy="697.31" r="1.38"/><circle cx="140.00" cy="692.65" r="1.38"/><circle cx="143.50" cy="687.43" r="1.38"/><circle cx="147.00" cy="681.63" r="1.38"/><circle cx="150.50" cy="675.24" r="1.38"/><circle cx="154.00" cy="668.27" r="1.38"/><circle cx="157.50" cy="660.75" r="1.38"/><circle cx="161.00" cy="652.73" r="1.38"/><circle cx="164.50" cy="644.30" r="1.38"/><circle cx="168.00" cy="635.55" r="1.38"/><circle cx="171.50" cy="626.60" r="1.38"/><circle cx="175.00" cy="617.60" r="1.38"/><circle cx="178.50" cy="608.69" r="1.38"/><circle cx="182.00" cy="600.03" r="1.38"/><circle cx="185.50" cy="591.78" r="1.38"/><circle cx="189.00" cy="584.07" r="1.38"/><circle cx="192.50" cy="577.02" r="1.38"/><circle cx="196.00" cy="570.72" r="1.38"/><circle cx="199.50" cy="565.24" r="1.38"/><circle cx="203.00" cy="560.59" r="1.38"/><circle cx="206.50" cy="556.74" r="1.38"/><circle cx="210.00" cy="553.63" r="1.38"/><circle cx="213.50" cy="551.16" r="1.38"/><circle cx="217.00" cy="549.19" r="1.38"/><circle cx="220.50" cy="547.54" r="1.38"/><circle cx="224.00" cy="546.04" r="1.38"/><circle cx="227.50" cy="544.49" r="1.38"/><circle cx="231.00" cy="542.71" r="1.38"/><circle cx="234.50" cy="540.51" r="1.38"/><circle cx="238.00" cy="537.75" r="1.38"/><circle cx="241.50" cy="534.30" r="1.38"/><circle cx="245.00" cy="530.08" r="1.38"/><circle cx="248.50" cy="525.05" r="1.38"/><circle cx="252.00" cy="519.22" r="1.38"/><circle cx="255.50" cy="512.63" r="1.38"/><circle cx="259.00" cy="505.37" r="1.38"/><circle cx="262.50" cy="497.57" r="1.38"/><circle cx="266.00" cy="489.39" r="1.38"/><circle cx="269.50" cy="481.01" r="1.38"/><circle cx="273.00" cy="472.65" r="1.38"/><circle cx="276.50" cy="464.51" r="1.38"/><circle cx="280.00" cy="456.83" r="1.38"/><circle cx="283.50" cy="449.83" r="1.38"/><circle cx="287.00" cy="443.72" r="1.38"/><circle cx="290.50" cy="438.69" r="1.38"/><circle cx="294.00" cy="434.89" r="1.38"/><circle cx="297.50" cy="432.49" r="1.38"/><circle cx="301.00" cy="431.56" r="1.38"/><circle cx="304.50" cy="432.19" r="1.38"/><circle cx="308.00" cy="434.39" r="1.38"/><circle cx="311.50" cy="438.17" r="1.38"/><circle cx="315.00" cy="443.48" r="1.38"/><circle cx="318.50" cy="450.23" r="1.38"/><circle cx="322.00" cy="458.31" r="1.38"/><circle cx="325.50" cy="467.59" r="1.38"/><circle cx="329.00" cy="477.91" r="1.38"/><circle cx="332.50" cy="489.10" r="1.38"/><circle cx="336.00" cy="500.95" r="1.38"/><circle cx="339.50" cy="513.30" r="1.38"/><circle cx="343.00" cy="525.94" r="1.38"/><circle cx="346.50" cy="538.70" r="1.38"/><circle cx="350.00" cy="551.41" r="1.38"/><circle cx="353.50" cy="563.93" r="1.38"/><circle cx="357.00" cy="576.13" r="1.38"/><circle cx="360.50" cy="587.96" r="1.38"/><circle cx="364.00" cy="599.29" r="1.38"/><circle cx="367.50" cy="610.02" r="1.38"/><circle cx="371.00" cy="620.09" r="1.38"/><circle cx="374.50" cy="629.48" r="1.38"/><circle cx="378.00" cy="638.16" r="1.38"/><circle cx="381.50" cy="646.15" r="1.38"/><circle cx="385.00" cy="653.45" r="1.38"/><circle cx="388.50" cy="660.09" r="1.38"/><circle cx="392.00" cy="666.11" r="1.38"/><circle cx="395.50" cy="671.55" r="1.38"/><circle cx="399.00" cy="676.45" r="1.38"/><circle cx="402.50" cy="680.86" r="1.38"/><circle cx="406.00" cy="684.81" r="1.38"/><circle cx="409.50" cy="688.36" r="1.38"/><circle cx="413.00" cy="691.53" r="1.38"/><circle cx="416.50" cy="694.38" r="1.38"/><circle cx="420.00" cy="696.94" r="1.38"/><circle cx="423.50" cy="699.24" r="1.38"/><circle cx="427.00" cy="701.30" r="1.38"/><circle cx="430.50" cy="703.17" r="1.38"/><circle cx="434.00" cy="704.86" r="1.38"/><circle cx="437.50" cy="706.38" r="1.38"/><circle cx="441.00" cy="707.76" r="1.38"/><circle cx="444.50" cy="709.01" r="1.38"/><circle cx="448.00" cy="710.14" r="1.38"/><circle cx="451.50" cy="711.16" r="1.38"/><circle cx="455.00" cy="712.07" r="1.38"/><circle cx="458.50" cy="712.88" r="1.38"/><circle cx="462.00" cy="713.60" r="1.38"/><circle cx="465.50" cy="714.12" r="1.38"/><circle cx="469.00" cy="714.54" r="1.38"/><circle cx="472.50" cy="714.88" r="1.38"/><circle cx="476.00" cy="715.12" r="1.38"/><circle cx="479.50" cy="715.28" r="1.38"/><circle cx="483.00" cy="715.36" r="1.38"/><circle cx="486.50" cy="715.34" r="1.38"/><circle cx="490.00" cy="715.24" r="1.38"/><circle cx="493.50" cy="715.06" r="1.38"/><circle cx="497.00" cy="714.78" r="1.38"/></g>
</g>
<g stroke="#000" stroke-width="2.05" fill="none" stroke-linecap="square">
<path d="M628,307.4H524.5V739.6H628"/>
<path d="M524.5,739.60h7.7"/>
<path d="M524.5,702.02h3.9"/>
<path d="M524.5,664.45h7.7"/>
<path d="M524.5,626.88h3.9"/>
<path d="M524.5,589.30h7.7"/>
<path d="M524.5,551.73h3.9"/>
<path d="M524.5,514.15h7.7"/>
<path d="M524.5,476.57h3.9"/>
<path d="M524.5,439.00h7.7"/>
<path d="M524.5,401.43h3.9"/>
<path d="M524.5,363.85h7.7"/>
<path d="M524.5,326.27h3.9"/>
<path d="M569.8,739.6v-3.9M615,739.6v-7.7"/>
<path d="M560.6,307.4v3.9M597,307.4v7.7"/>
<path d="M628,423.1H553.1V624.6H628" stroke-width="2.4"/>
<path d="M574.4,624.6v-3.6M595.3,624.6v-7.4M616.5,624.6v-3.6"/>
<path d="M570.1,423.1v3.6M587.1,423.1v7.4M604.5,423.1v3.6M621.4,423.1v7.4"/>
</g>
<g stroke="#000" stroke-width="1.55" fill="none">
<path d="M553.1,437.0h8.5" stroke-width="2"/>
<path d="M553.1,469.92h4.8"/>
<path d="M553.1,461.63h4.8"/>
<path d="M553.1,455.74h4.8"/>
<path d="M553.1,451.18h4.8"/>
<path d="M553.1,447.45h4.8"/>
<path d="M553.1,444.30h4.8"/>
<path d="M553.1,441.56h4.8"/>
<path d="M553.1,439.16h4.8"/>
<path d="M553.1,484.1h8.5" stroke-width="2"/>
<path d="M553.1,517.02h4.8"/>
<path d="M553.1,508.73h4.8"/>
<path d="M553.1,502.84h4.8"/>
<path d="M553.1,498.28h4.8"/>
<path d="M553.1,494.55h4.8"/>
<path d="M553.1,491.40h4.8"/>
<path d="M553.1,488.66h4.8"/>
<path d="M553.1,486.26h4.8"/>
<path d="M553.1,531.2h8.5" stroke-width="2"/>
<path d="M553.1,564.12h4.8"/>
<path d="M553.1,555.83h4.8"/>
<path d="M553.1,549.94h4.8"/>
<path d="M553.1,545.38h4.8"/>
<path d="M553.1,541.65h4.8"/>
<path d="M553.1,538.50h4.8"/>
<path d="M553.1,535.76h4.8"/>
<path d="M553.1,533.36h4.8"/>
<path d="M553.1,578.3h8.5" stroke-width="2"/>
<path d="M553.1,611.22h4.8"/>
<path d="M553.1,602.93h4.8"/>
<path d="M553.1,597.04h4.8"/>
<path d="M553.1,592.48h4.8"/>
<path d="M553.1,588.75h4.8"/>
<path d="M553.1,585.60h4.8"/>
<path d="M553.1,582.86h4.8"/>
<path d="M553.1,580.46h4.8"/>
</g>
<g clip-path="url(#ci)" fill="none" stroke-linejoin="round">
<path d="M577.3,624.5 L577.3,600.8 L578.5,600 L579.5,601 L581.3,599.2 L582.6,600.2 L583.6,602.6 L585,603.4 L587,603 L588.6,603.4 L590,600 L592,595 L594,590 L596,584 L596.8,590 L595.9,624.5 Z" fill="#ff0000" stroke="none"/>
<path d="M594.9,616 L595.5,604 L596.9,588 L598.6,576 L600.3,569.5 L602.5,566.8 L605,566.2 L607.5,563.5 L610.5,557.5 L613.8,552.3 L617.5,556 L621,562 L624,570" stroke="#ff0000" stroke-width="3.2"/>
<path d="M586.5,624.5 L587.8,611.8 L589.6,601.9 L591.5,594.5 L594,584.6 L595.7,576 L597.1,568.5 L598.5,564 L600.2,561 L602.7,558.5 L605.75,557.1 L607.7,555.4 L609.5,553 L611.8,550 L613.8,548.6 L615.8,549.4 L617.5,551.7 L619.2,555.3 L620.6,559.8 L623,567.2 L625,573" stroke="#000" stroke-width="3.3"/>
<path d="M577.3,624.8 L581.6,610.8 L583.2,616 L587.6,604.5 L590.2,602.5 L588.2,624.8 Z" fill="#0000ff" stroke="none"/>
<path d="M588.6,605 L589.6,601.9 L592.1,594.5 L594.6,584.6 L596.5,577.1 L598.9,569.7 L601.4,565.4 L605.1,564.1 L608.8,559.8 L612.6,556 L616.3,559.2 L619.4,567.2 L622.5,578.4 L624.5,586" stroke="#0000ff" stroke-width="2.9" stroke-dasharray="1.2 4.5" stroke-linecap="round"/>
</g>
<path d="M578,739.2H623" stroke="#ff0000" stroke-width="0.8" opacity="0.6"/>
<path d="M606,738.6H623" stroke="#000" stroke-width="1" opacity="0.7"/>
<text x="84.0" y="294.2" font-size="17.6" text-anchor="middle" >1.0</text>
<text x="145.4" y="294.2" font-size="17.6" text-anchor="middle" >1.2</text>
<text x="206.7" y="294.2" font-size="17.6" text-anchor="middle" >1.4</text>
<text x="268.1" y="294.2" font-size="17.6" text-anchor="middle" >1.6</text>
<text x="329.4" y="294.2" font-size="17.6" text-anchor="middle" >1.8</text>
<text x="390.8" y="294.2" font-size="17.6" text-anchor="middle" >2.0</text>
<text x="452.2" y="294.2" font-size="17.6" text-anchor="middle" >2.2</text>
<text x="80.1" y="763.9" font-size="17.6" text-anchor="middle" >0.8</text>
<text x="149.3" y="763.9" font-size="17.6" text-anchor="middle" >1.0</text>
<text x="218.6" y="763.9" font-size="17.6" text-anchor="middle" >1.2</text>
<text x="287.9" y="763.9" font-size="17.6" text-anchor="middle" >1.4</text>
<text x="357.2" y="763.9" font-size="17.6" text-anchor="middle" >1.6</text>
<text x="426.4" y="763.9" font-size="17.6" text-anchor="middle" >1.8</text>
<text x="507.5" y="763.9" font-size="17.6" text-anchor="end" >2.0</text>
<text x="53.4" y="745.0" font-size="17.6" text-anchor="end" >0</text>
<text x="53.4" y="669.9" font-size="17.6" text-anchor="end" >1</text>
<text x="53.4" y="594.7" font-size="17.6" text-anchor="end" >2</text>
<text x="53.4" y="519.5" font-size="17.6" text-anchor="end" >3</text>
<text x="53.4" y="444.4" font-size="17.6" text-anchor="end" >4</text>
<text x="53.4" y="369.2" font-size="17.6" text-anchor="end" >5</text>
<text x="524.5" y="294.2" font-size="17.6" text-anchor="middle" >0</text>
<text x="597" y="294.2" font-size="17.6" text-anchor="middle" >1</text>
<text x="524.5" y="763.9" font-size="17.6" text-anchor="middle" >0</text>
<text x="615.5" y="763.9" font-size="17.6" text-anchor="middle" >1</text>
<text x="553.4" y="417.2" font-size="18.3" text-anchor="middle" >0</text>
<text x="587.5" y="417.2" font-size="18.3" text-anchor="middle" >1</text>
<text x="621.5" y="417.2" font-size="18.3" text-anchor="middle" >2</text>
<text x="553.2" y="644.4" font-size="18.3" text-anchor="middle" >0</text>
<text x="595.4" y="644.4" font-size="18.3" text-anchor="middle" >1</text>
<text x="283.3" y="263" font-size="22.4" text-anchor="middle" >Energy (eV)</text>
<text x="180" y="799.3" font-size="22.4">Frequency (10<tspan font-size="13" dy="-9.7">4</tspan><tspan dy="9.7">cm</tspan><tspan font-size="13" dy="-9.7">-1</tspan><tspan dy="9.7">)</tspan></text>
<text transform="translate(25.3,662.1) rotate(-90) scale(0.913,1)" font-size="24.2">Optical Conductivity (<tspan dx="0.5">Ω</tspan><tspan font-size="13.5" dy="-11.5" dx="1.2">-1</tspan><tspan dy="11.5" dx="0.8">cm</tspan><tspan font-size="13.5" dy="-11.5" dx="1.5">-1</tspan><tspan dy="11.5" dx="1">)</tspan></text>
<text x="85.6" y="349.6" font-size="23" text-anchor="start" >(a)</text>
<text x="546" y="349.6" font-size="23" text-anchor="start" >(b)</text>
<text x="163.3" y="354.4" font-size="20.4" text-anchor="start" >E || ab</text>
<text x="361.7" y="354.4" font-size="20.4" text-anchor="start" >E || c</text>
<text x="220.3" y="379.1" font-size="20.6">ZnCu<tspan font-size="12.6" dy="6.3">3</tspan><tspan dy="-6.3">(OH)</tspan><tspan font-size="12.6" dy="6.3">6</tspan><tspan dy="-6.3">Cl</tspan><tspan font-size="12.6" dy="6.3">2</tspan></text>
<text x="220.3" y="411.0" font-size="20.6">Y<tspan font-size="12.6" dy="6.3">3</tspan><tspan dy="-6.3">Cu</tspan><tspan font-size="12.6" dy="6.3">9</tspan><tspan dy="-6.3">(OH)</tspan><tspan font-size="12.6" dy="6.3">19</tspan><tspan dy="-6.3">Cl</tspan><tspan font-size="12.6" dy="6.3">8</tspan></text>
<path d="M163.8,372.4H209.8" stroke="#000" stroke-width="4.6" stroke-linecap="round"/>
<path d="M163.9,403.4H209.6" stroke="#ff0000" stroke-width="3.3" stroke-linecap="round"/>
<path d="M366.85,372.2H409" stroke="#0000ff" stroke-width="3.1" stroke-dasharray="4.6 7.7" stroke-linecap="round"/>
<text x="151.8" y="523.6" font-size="18.4" text-anchor="middle" fill="#00ff00">sum of</text>
<text x="150.7" y="544.8" font-size="18.4" text-anchor="middle" fill="#00ff00">Gaussian fits</text>
<text x="590.6" y="520" font-size="21" text-anchor="start" >local</text>
<text x="596.3" y="545" font-size="21" text-anchor="start" >d-d</text>
<text x="598.4" y="672.3" font-size="21"><tspan font-family="Liberation Serif, serif" font-size="23.5" stroke="#000" stroke-width="0.35">ω</tspan><tspan x="619.6">(</tspan></text>
</svg></body></html>
